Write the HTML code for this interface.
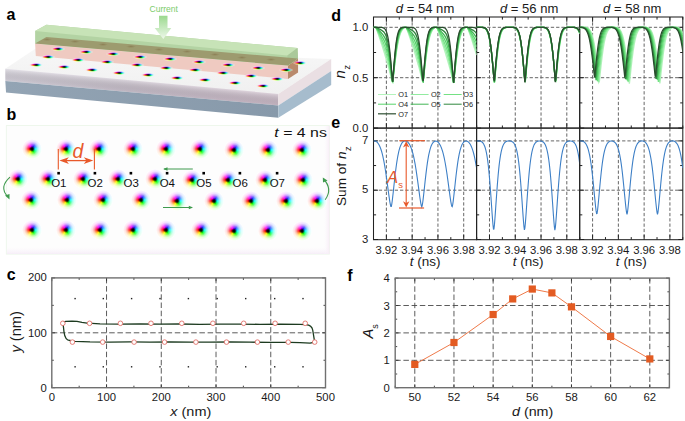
<!DOCTYPE html>
<html><head><meta charset="utf-8"><style>
*{margin:0;padding:0}
html,body{width:685px;height:421px;overflow:hidden;background:#fff}
#wrap{position:relative;width:685px;height:421px}
svg{position:absolute;left:0;top:0}
text{font-family:"Liberation Sans",sans-serif}
.skb{position:absolute;width:20px;height:20px;border-radius:50%;
 background:radial-gradient(circle,#000 0,rgba(0,0,0,.9) 1.2px,rgba(0,0,0,.35) 2.2px,rgba(0,0,0,0) 3.1px),
 radial-gradient(circle,rgba(255,255,255,0) 2.7px,rgba(255,255,255,.3) 4.3px,rgba(255,255,255,.66) 5.9px,rgba(255,255,255,.88) 7.6px,rgba(255,255,255,.96) 9.3px,#fff 10px),
 conic-gradient(from -30deg,#f0f 0deg,#22f 60deg,#0ff 120deg,#0f0 180deg,#ff0 240deg,#f00 300deg,#f0f 360deg);
 filter:blur(0.55px)}
.ska{position:absolute;width:16px;height:16px;border-radius:50%;transform:scale(0.95,0.3);
 background:radial-gradient(circle,#000 0,rgba(0,0,0,.9) 1.3px,rgba(0,0,0,.4) 2.4px,rgba(0,0,0,0) 3.4px),
 radial-gradient(circle,rgba(255,255,255,0) 2.8px,rgba(255,255,255,.3) 4.4px,rgba(255,255,255,.75) 6px,rgba(255,255,255,1) 8px),
 conic-gradient(from -30deg,#f0f 0deg,#22f 60deg,#0ff 120deg,#0f0 180deg,#ff0 240deg,#f00 300deg,#f0f 360deg);
 -webkit-mask-image:radial-gradient(circle,#000 3.5px,rgba(0,0,0,0) 8px);
 filter:blur(0.3px)}
.ska0{position:absolute;width:10px;height:3px;border-radius:50%;background:radial-gradient(ellipse,rgba(110,80,40,.35),rgba(110,80,40,0) 70%)}
</style></head>
<body><div id="wrap">
<svg width="685" height="421" viewBox="0 0 685 421">
<defs><linearGradient id="frontU" x1="0" y1="0" x2="1" y2="0"><stop offset="0" stop-color="#d6d2dc"/><stop offset="0.45" stop-color="#c9c0cc"/><stop offset="1" stop-color="#cbbac8"/></linearGradient><linearGradient id="frontUv" gradientUnits="userSpaceOnUse" x1="0" y1="68.2" x2="0" y2="80.4"><stop offset="0" stop-color="#fff" stop-opacity="0.35"/><stop offset="1" stop-color="#000" stop-opacity="0.03"/></linearGradient><linearGradient id="frontL" x1="0" y1="0" x2="1" y2="0"><stop offset="0" stop-color="#93a4b4"/><stop offset="1" stop-color="#8799aa"/></linearGradient><linearGradient id="topF" x1="0" y1="0" x2="0" y2="1"><stop offset="0" stop-color="#f7f7f7"/><stop offset="1" stop-color="#f0f0f0"/></linearGradient><linearGradient id="arrowG" x1="0" y1="0" x2="0" y2="1"><stop offset="0" stop-color="#9bd98e"/><stop offset="1" stop-color="#eef8ea"/></linearGradient></defs>
<polygon points="5.30,68.70 278.30,93.90 331.20,58.90 35.30,48.80" fill="url(#topF)" />
<polygon points="5.30,68.70 278.30,93.90 278.30,105.50 5.30,80.90" fill="url(#frontU)" />
<g transform="matrix(1,0.0923,0,1,0,0)"><rect x="5.3" y="68.2" width="273" height="12.2" fill="url(#frontUv)" transform="translate(0,0)"/></g>
<polygon points="5.30,80.90 278.30,105.50 278.30,117.80 6.00,92.60" fill="url(#frontL)" />
<polygon points="278.30,93.90 331.20,58.90 331.20,70.90 278.30,105.50" fill="#eadfe3" />
<polygon points="278.30,105.50 331.20,70.90 331.20,85.10 278.30,117.80" fill="#a6bccd" />
<polygon points="35.10,43.60 288.00,65.60 288.00,78.90 35.80,56.00" fill="#efcac1" />
<polygon points="288.00,65.60 298.00,58.60 298.10,72.40 288.00,78.90" fill="#b98a6c" />
<polygon points="35.10,31.00 46.40,24.70 297.50,48.10 298.00,58.60 288.00,65.60 35.10,43.60" fill="#b3d3a3" />
<polygon points="35.10,31.00 46.40,24.70 297.50,48.10 287.40,55.50" fill="#c7e3b7" />
<polygon points="287.40,55.50 297.50,48.10 298.00,58.60 288.00,65.60" fill="#aac99a" />
<polygon points="35.10,43.60 46.40,37.00 298.00,58.60 288.00,65.60" fill="#9d9b6f" />
<polygon points="159,15.7 167.5,15.7 167.5,28 171.3,28 163.3,39 154.7,28 159,28" fill="url(#arrowG)"/>
<text x="149.50" y="11.90" font-size="8.4" text-anchor="start" fill="#7ccc6c" font-weight="normal" font-style="normal" textLength="28.5" lengthAdjust="spacingAndGlyphs">Current</text>
<rect x="6.3" y="125.6" width="323.3" height="128.5" fill="#fdfdfd" stroke="#eaf6e8" stroke-width="0.8"/>
<defs><linearGradient id="bb" x1="0" y1="0" x2="0" y2="1"><stop offset="0" stop-color="#fbf6fc" stop-opacity="0"/><stop offset="1" stop-color="#f6eef8"/></linearGradient></defs><rect x="6.8" y="247" width="322.5" height="7" fill="url(#bb)"/><linearGradient id="br" x1="0" y1="0" x2="1" y2="0"><stop offset="0" stop-color="#fbf6fc" stop-opacity="0"/><stop offset="1" stop-color="#f7edf6"/></linearGradient><rect x="324" y="126" width="5.5" height="128" fill="url(#br)"/>
</svg>
<div class="ska0" style="left:42.0px;top:37.5px"></div>
<div class="ska0" style="left:70.0px;top:40.0px"></div>
<div class="ska0" style="left:98.0px;top:42.5px"></div>
<div class="ska0" style="left:126.0px;top:45.0px"></div>
<div class="ska0" style="left:154.0px;top:47.5px"></div>
<div class="ska0" style="left:182.0px;top:50.1px"></div>
<div class="ska0" style="left:210.2px;top:53.1px"></div>
<div class="ska0" style="left:237.2px;top:55.7px"></div>
<div class="ska0" style="left:265.5px;top:58.3px"></div>
<div class="ska" style="left:292.0px;top:54.6px;opacity:1.0"></div>
<div class="ska" style="left:50.3px;top:41.1px;opacity:1.0"></div>
<div class="ska" style="left:77.6px;top:43.9px;opacity:1.0"></div>
<div class="ska" style="left:104.9px;top:46.4px;opacity:1.0"></div>
<div class="ska" style="left:132.2px;top:48.8px;opacity:1.0"></div>
<div class="ska" style="left:162.3px;top:51.3px;opacity:1.0"></div>
<div class="ska" style="left:190.5px;top:54.4px;opacity:1.0"></div>
<div class="ska" style="left:220.1px;top:56.9px;opacity:1.0"></div>
<div class="ska" style="left:249.6px;top:59.5px;opacity:1.0"></div>
<div class="ska" style="left:277.9px;top:62.3px;opacity:1.0"></div>
<div class="ska" style="left:40.4px;top:49.3px;opacity:1.0"></div>
<div class="ska" style="left:70.2px;top:51.8px;opacity:1.0"></div>
<div class="ska" style="left:98.7px;top:54.3px;opacity:1.0"></div>
<div class="ska" style="left:128.5px;top:57.3px;opacity:1.0"></div>
<div class="ska" style="left:157.5px;top:59.8px;opacity:1.0"></div>
<div class="ska" style="left:186.7px;top:62.3px;opacity:1.0"></div>
<div class="ska" style="left:215.0px;top:64.9px;opacity:1.0"></div>
<div class="ska" style="left:243.2px;top:68.0px;opacity:1.0"></div>
<div class="ska" style="left:268.9px;top:70.5px;opacity:1.0"></div>
<div class="ska" style="left:28.0px;top:57.3px;opacity:1.0"></div>
<div class="ska" style="left:56.0px;top:59.3px;opacity:1.0"></div>
<div class="ska" style="left:83.8px;top:61.7px;opacity:1.0"></div>
<div class="ska" style="left:111.1px;top:64.7px;opacity:1.0"></div>
<div class="ska" style="left:139.6px;top:66.7px;opacity:1.0"></div>
<div class="ska" style="left:168.7px;top:69.8px;opacity:1.0"></div>
<div class="ska" style="left:197.0px;top:72.3px;opacity:1.0"></div>
<div class="ska" style="left:226.5px;top:74.9px;opacity:1.0"></div>
<div class="ska" style="left:254.8px;top:77.7px;opacity:1.0"></div>
<div class="skb" style="left:22.1px;top:138.6px"></div>
<div class="skb" style="left:55.8px;top:138.8px"></div>
<div class="skb" style="left:88.8px;top:138.9px"></div>
<div class="skb" style="left:122.5px;top:139.1px"></div>
<div class="skb" style="left:156.1px;top:139.3px"></div>
<div class="skb" style="left:189.8px;top:139.4px"></div>
<div class="skb" style="left:224.4px;top:139.6px"></div>
<div class="skb" style="left:257.5px;top:139.8px"></div>
<div class="skb" style="left:291.8px;top:139.9px"></div>
<div class="skb" style="left:7.6px;top:168.7px"></div>
<div class="skb" style="left:37.5px;top:168.9px"></div>
<div class="skb" style="left:72.8px;top:169.1px"></div>
<div class="skb" style="left:107.5px;top:169.2px"></div>
<div class="skb" style="left:144.9px;top:169.4px"></div>
<div class="skb" style="left:181.8px;top:169.6px"></div>
<div class="skb" style="left:218.0px;top:169.8px"></div>
<div class="skb" style="left:254.9px;top:170.0px"></div>
<div class="skb" style="left:292.8px;top:170.2px"></div>
<div class="skb" style="left:20.5px;top:189.9px"></div>
<div class="skb" style="left:56.7px;top:190.1px"></div>
<div class="skb" style="left:93.3px;top:190.3px"></div>
<div class="skb" style="left:130.5px;top:190.4px"></div>
<div class="skb" style="left:167.4px;top:190.6px"></div>
<div class="skb" style="left:204.3px;top:190.8px"></div>
<div class="skb" style="left:240.5px;top:191.0px"></div>
<div class="skb" style="left:276.4px;top:191.2px"></div>
<div class="skb" style="left:306.6px;top:191.3px"></div>
<div class="skb" style="left:22.1px;top:219.6px"></div>
<div class="skb" style="left:55.8px;top:219.8px"></div>
<div class="skb" style="left:90.1px;top:219.9px"></div>
<div class="skb" style="left:122.5px;top:220.1px"></div>
<div class="skb" style="left:156.1px;top:220.3px"></div>
<div class="skb" style="left:191.4px;top:220.4px"></div>
<div class="skb" style="left:224.4px;top:220.6px"></div>
<div class="skb" style="left:257.5px;top:220.8px"></div>
<div class="skb" style="left:291.8px;top:220.9px"></div>
<svg width="685" height="421" viewBox="0 0 685 421">
<text x="6.50" y="20.30" font-size="16" text-anchor="start" fill="#000" font-weight="bold" font-style="normal" >a</text>
<text x="6.50" y="120.00" font-size="16" text-anchor="start" fill="#000" font-weight="bold" font-style="normal" >b</text>
<text x="6.80" y="279.60" font-size="16" text-anchor="start" fill="#000" font-weight="bold" font-style="normal" >c</text>
<text x="331.30" y="20.50" font-size="16" text-anchor="start" fill="#000" font-weight="bold" font-style="normal" >d</text>
<text x="331.30" y="127.80" font-size="16" text-anchor="start" fill="#000" font-weight="bold" font-style="normal" >e</text>
<text x="347.30" y="281.00" font-size="16" text-anchor="start" fill="#000" font-weight="bold" font-style="normal" >f</text>
<text x="274.30" y="137.10" font-size="13.7" text-anchor="start" fill="#111" font-weight="normal" font-style="normal" textLength="52.6" lengthAdjust="spacingAndGlyphs"><tspan font-style="italic">t</tspan> = 4 ns</text>
<line x1="58.30" y1="149.00" x2="58.30" y2="169.50" stroke="#e8592a" stroke-width="1.1" />
<line x1="94.40" y1="149.00" x2="94.40" y2="169.50" stroke="#e8592a" stroke-width="1.1" />
<line x1="63.00" y1="160.60" x2="90.00" y2="160.60" stroke="#e8592a" stroke-width="1.3" />
<polygon points="59.4,160.6 68.9,157.2 66.3,160.6 68.9,164.0" fill="#e8592a"/>
<polygon points="93.3,160.6 83.8,157.2 86.4,160.6 83.8,164.0" fill="#e8592a"/>
<text x="72.40" y="157.60" font-size="19.5" text-anchor="start" fill="#e8592a" font-weight="normal" font-style="italic" >d</text>
<rect x="57.30" y="171.9" width="2.6" height="2.6" fill="#000"/>
<text x="51.20" y="187.40" font-size="11.2" text-anchor="start" fill="#111" font-weight="normal" font-style="normal" textLength="15.3" lengthAdjust="spacingAndGlyphs">O1</text>
<rect x="93.60" y="171.9" width="2.6" height="2.6" fill="#000"/>
<text x="87.50" y="187.40" font-size="11.2" text-anchor="start" fill="#111" font-weight="normal" font-style="normal" textLength="15.3" lengthAdjust="spacingAndGlyphs">O2</text>
<rect x="129.60" y="171.9" width="2.6" height="2.6" fill="#000"/>
<text x="123.50" y="187.40" font-size="11.2" text-anchor="start" fill="#111" font-weight="normal" font-style="normal" textLength="15.3" lengthAdjust="spacingAndGlyphs">O3</text>
<rect x="165.80" y="171.9" width="2.6" height="2.6" fill="#000"/>
<text x="159.70" y="187.40" font-size="11.2" text-anchor="start" fill="#111" font-weight="normal" font-style="normal" textLength="15.3" lengthAdjust="spacingAndGlyphs">O4</text>
<rect x="202.40" y="171.9" width="2.6" height="2.6" fill="#000"/>
<text x="196.30" y="187.40" font-size="11.2" text-anchor="start" fill="#111" font-weight="normal" font-style="normal" textLength="15.3" lengthAdjust="spacingAndGlyphs">O5</text>
<rect x="238.60" y="171.9" width="2.6" height="2.6" fill="#000"/>
<text x="232.50" y="187.40" font-size="11.2" text-anchor="start" fill="#111" font-weight="normal" font-style="normal" textLength="15.3" lengthAdjust="spacingAndGlyphs">O6</text>
<rect x="275.80" y="171.9" width="2.6" height="2.6" fill="#000"/>
<text x="269.70" y="187.40" font-size="11.2" text-anchor="start" fill="#111" font-weight="normal" font-style="normal" textLength="15.3" lengthAdjust="spacingAndGlyphs">O7</text>
<path d="M163.9,169 L192.8,169" stroke="#3f9a4e" stroke-width="1"/>
<polygon points="163.3,169 167.5,167.2 167.5,170.8" fill="#3f9a4e"/>
<path d="M163,207.5 L192,207.5" stroke="#3f9a4e" stroke-width="1"/>
<polygon points="193,207.5 188.8,205.7 188.8,209.3" fill="#3f9a4e"/>
<path d="M10,177.1 Q-1.2,187 7.6,196.5" stroke="#3f9a4e" stroke-width="1.1" fill="none"/>
<polygon points="9.5,199.5 5,195.5 9.5,194" fill="#3f9a4e"/>
<path d="M325.2,199.7 Q333,189 323.5,179" stroke="#3f9a4e" stroke-width="1.1" fill="none"/>
<polygon points="322.8,177.4 327.5,180.5 323,182.5" fill="#3f9a4e"/>
<line x1="106.54" y1="277.90" x2="106.54" y2="387.70" stroke="#4a4a4a" stroke-width="0.9" stroke-dasharray="5.5,2.7" />
<line x1="161.28" y1="277.90" x2="161.28" y2="387.70" stroke="#4a4a4a" stroke-width="0.9" stroke-dasharray="5.5,2.7" />
<line x1="216.02" y1="277.90" x2="216.02" y2="387.70" stroke="#4a4a4a" stroke-width="0.9" stroke-dasharray="5.5,2.7" />
<line x1="270.76" y1="277.90" x2="270.76" y2="387.70" stroke="#4a4a4a" stroke-width="0.9" stroke-dasharray="5.5,2.7" />
<line x1="51.80" y1="332.80" x2="325.50" y2="332.80" stroke="#4a4a4a" stroke-width="0.9" stroke-dasharray="5.5,2.7" />
<line x1="51.80" y1="387.70" x2="51.80" y2="384.40" stroke="#333" stroke-width="0.9" />
<line x1="51.80" y1="277.90" x2="51.80" y2="281.20" stroke="#333" stroke-width="0.9" />
<line x1="79.17" y1="387.70" x2="79.17" y2="385.70" stroke="#333" stroke-width="0.9" />
<line x1="79.17" y1="277.90" x2="79.17" y2="279.90" stroke="#333" stroke-width="0.9" />
<line x1="106.54" y1="387.70" x2="106.54" y2="384.40" stroke="#333" stroke-width="0.9" />
<line x1="106.54" y1="277.90" x2="106.54" y2="281.20" stroke="#333" stroke-width="0.9" />
<line x1="133.91" y1="387.70" x2="133.91" y2="385.70" stroke="#333" stroke-width="0.9" />
<line x1="133.91" y1="277.90" x2="133.91" y2="279.90" stroke="#333" stroke-width="0.9" />
<line x1="161.28" y1="387.70" x2="161.28" y2="384.40" stroke="#333" stroke-width="0.9" />
<line x1="161.28" y1="277.90" x2="161.28" y2="281.20" stroke="#333" stroke-width="0.9" />
<line x1="188.65" y1="387.70" x2="188.65" y2="385.70" stroke="#333" stroke-width="0.9" />
<line x1="188.65" y1="277.90" x2="188.65" y2="279.90" stroke="#333" stroke-width="0.9" />
<line x1="216.02" y1="387.70" x2="216.02" y2="384.40" stroke="#333" stroke-width="0.9" />
<line x1="216.02" y1="277.90" x2="216.02" y2="281.20" stroke="#333" stroke-width="0.9" />
<line x1="243.39" y1="387.70" x2="243.39" y2="385.70" stroke="#333" stroke-width="0.9" />
<line x1="243.39" y1="277.90" x2="243.39" y2="279.90" stroke="#333" stroke-width="0.9" />
<line x1="270.76" y1="387.70" x2="270.76" y2="384.40" stroke="#333" stroke-width="0.9" />
<line x1="270.76" y1="277.90" x2="270.76" y2="281.20" stroke="#333" stroke-width="0.9" />
<line x1="298.13" y1="387.70" x2="298.13" y2="385.70" stroke="#333" stroke-width="0.9" />
<line x1="298.13" y1="277.90" x2="298.13" y2="279.90" stroke="#333" stroke-width="0.9" />
<line x1="325.50" y1="387.70" x2="325.50" y2="384.40" stroke="#333" stroke-width="0.9" />
<line x1="325.50" y1="277.90" x2="325.50" y2="281.20" stroke="#333" stroke-width="0.9" />
<line x1="51.80" y1="387.70" x2="55.10" y2="387.70" stroke="#333" stroke-width="0.9" />
<line x1="325.50" y1="387.70" x2="322.20" y2="387.70" stroke="#333" stroke-width="0.9" />
<line x1="51.80" y1="360.25" x2="53.80" y2="360.25" stroke="#333" stroke-width="0.9" />
<line x1="325.50" y1="360.25" x2="323.50" y2="360.25" stroke="#333" stroke-width="0.9" />
<line x1="51.80" y1="332.80" x2="55.10" y2="332.80" stroke="#333" stroke-width="0.9" />
<line x1="325.50" y1="332.80" x2="322.20" y2="332.80" stroke="#333" stroke-width="0.9" />
<line x1="51.80" y1="305.35" x2="53.80" y2="305.35" stroke="#333" stroke-width="0.9" />
<line x1="325.50" y1="305.35" x2="323.50" y2="305.35" stroke="#333" stroke-width="0.9" />
<line x1="51.80" y1="277.90" x2="55.10" y2="277.90" stroke="#333" stroke-width="0.9" />
<line x1="325.50" y1="277.90" x2="322.20" y2="277.90" stroke="#333" stroke-width="0.9" />
<rect x="51.80" y="277.90" width="273.70" height="109.80" fill="none" stroke="#707070" stroke-width="1.4"/>
<rect x="74.40" y="297.90" width="1.4" height="1.4" fill="#222"/>
<rect x="102.60" y="297.90" width="1.4" height="1.4" fill="#222"/>
<rect x="130.90" y="297.90" width="1.4" height="1.4" fill="#222"/>
<rect x="159.30" y="297.90" width="1.4" height="1.4" fill="#222"/>
<rect x="187.70" y="297.90" width="1.4" height="1.4" fill="#222"/>
<rect x="216.50" y="297.90" width="1.4" height="1.4" fill="#222"/>
<rect x="245.00" y="297.90" width="1.4" height="1.4" fill="#222"/>
<rect x="274.00" y="297.90" width="1.4" height="1.4" fill="#222"/>
<rect x="302.30" y="297.90" width="1.4" height="1.4" fill="#222"/>
<rect x="74.40" y="366.10" width="1.4" height="1.4" fill="#222"/>
<rect x="102.60" y="366.10" width="1.4" height="1.4" fill="#222"/>
<rect x="130.90" y="366.10" width="1.4" height="1.4" fill="#222"/>
<rect x="159.30" y="366.10" width="1.4" height="1.4" fill="#222"/>
<rect x="187.70" y="366.10" width="1.4" height="1.4" fill="#222"/>
<rect x="216.50" y="366.10" width="1.4" height="1.4" fill="#222"/>
<rect x="245.00" y="366.10" width="1.4" height="1.4" fill="#222"/>
<rect x="274.00" y="366.10" width="1.4" height="1.4" fill="#222"/>
<rect x="302.30" y="366.10" width="1.4" height="1.4" fill="#222"/>
<path d="M63.0,322.0 L66.0,321.3 L72.0,321.2 L77.0,321.4 L82.0,322.4 L87.0,323.2 L92.0,323.4 L100.0,323.9 L120.0,324.1 L140.0,323.9 L160.0,324.2 L180.0,324.0 L200.0,324.3 L220.0,324.1 L240.0,324.2 L260.0,324.3 L280.0,324.1 L300.0,324.4 L306.0,324.6 C310,325 312,326 312.7,330 L314.7,342.2 L310.0,343.2 L300.0,342.6 L290.0,342.3 L270.0,342.4 L250.0,342.2 L230.0,342.0 L210.0,342.2 L190.0,342.1 L170.0,342.0 L150.0,342.1 L130.0,341.9 L110.0,342.1 L90.0,341.9 L75.0,341.4 L70.0,340.5 C66.5,340.5 64.5,336 64,332 L63,323" stroke="#1d3b20" stroke-width="1.3" fill="none"/>
<circle cx="62.8" cy="323.3" r="2.3" fill="#fff" stroke="#e2706a" stroke-width="0.9"/>
<circle cx="89.6" cy="323.3" r="2.3" fill="#fff" stroke="#e2706a" stroke-width="0.9"/>
<circle cx="120.4" cy="323.3" r="2.3" fill="#fff" stroke="#e2706a" stroke-width="0.9"/>
<circle cx="151" cy="323.3" r="2.3" fill="#fff" stroke="#e2706a" stroke-width="0.9"/>
<circle cx="181.8" cy="323.3" r="2.3" fill="#fff" stroke="#e2706a" stroke-width="0.9"/>
<circle cx="212.9" cy="323.3" r="2.3" fill="#fff" stroke="#e2706a" stroke-width="0.9"/>
<circle cx="243.7" cy="323.3" r="2.3" fill="#fff" stroke="#e2706a" stroke-width="0.9"/>
<circle cx="275.1" cy="323.3" r="2.3" fill="#fff" stroke="#e2706a" stroke-width="0.9"/>
<circle cx="305.2" cy="323.3" r="2.3" fill="#fff" stroke="#e2706a" stroke-width="0.9"/>
<circle cx="72.4" cy="342.1" r="2.3" fill="#fff" stroke="#e2706a" stroke-width="0.9"/>
<circle cx="102.7" cy="342.1" r="2.3" fill="#fff" stroke="#e2706a" stroke-width="0.9"/>
<circle cx="134.1" cy="342.1" r="2.3" fill="#fff" stroke="#e2706a" stroke-width="0.9"/>
<circle cx="164.6" cy="342.1" r="2.3" fill="#fff" stroke="#e2706a" stroke-width="0.9"/>
<circle cx="195.9" cy="342.1" r="2.3" fill="#fff" stroke="#e2706a" stroke-width="0.9"/>
<circle cx="226.5" cy="342.1" r="2.3" fill="#fff" stroke="#e2706a" stroke-width="0.9"/>
<circle cx="257.4" cy="342.1" r="2.3" fill="#fff" stroke="#e2706a" stroke-width="0.9"/>
<circle cx="288.2" cy="342.1" r="2.3" fill="#fff" stroke="#e2706a" stroke-width="0.9"/>
<circle cx="314.7" cy="342.1" r="2.3" fill="#fff" stroke="#e2706a" stroke-width="0.9"/>
<text x="46.80" y="391.70" font-size="11.3" text-anchor="end" fill="#1a1a1a" font-weight="normal" font-style="normal" >0</text>
<text x="46.80" y="336.80" font-size="11.3" text-anchor="end" fill="#1a1a1a" font-weight="normal" font-style="normal" >100</text>
<text x="46.80" y="280.90" font-size="11.3" text-anchor="end" fill="#1a1a1a" font-weight="normal" font-style="normal" >200</text>
<text x="51.80" y="401.00" font-size="11.3" text-anchor="middle" fill="#1a1a1a" font-weight="normal" font-style="normal" >0</text>
<text x="106.54" y="401.00" font-size="11.3" text-anchor="middle" fill="#1a1a1a" font-weight="normal" font-style="normal" >100</text>
<text x="161.28" y="401.00" font-size="11.3" text-anchor="middle" fill="#1a1a1a" font-weight="normal" font-style="normal" >200</text>
<text x="216.02" y="401.00" font-size="11.3" text-anchor="middle" fill="#1a1a1a" font-weight="normal" font-style="normal" >300</text>
<text x="270.76" y="401.00" font-size="11.3" text-anchor="middle" fill="#1a1a1a" font-weight="normal" font-style="normal" >400</text>
<text x="325.50" y="401.00" font-size="11.3" text-anchor="middle" fill="#1a1a1a" font-weight="normal" font-style="normal" >500</text>
<text x="170.30" y="416.20" font-size="13.6" text-anchor="start" fill="#1a1a1a" font-weight="normal" font-style="normal" textLength="41" lengthAdjust="spacingAndGlyphs"><tspan font-style="italic">x</tspan> (nm)</text>
<text transform="translate(20.8,352.6) rotate(-90)" font-size="13.9" fill="#1a1a1a" textLength="41.6" lengthAdjust="spacingAndGlyphs"><tspan font-style="italic">y</tspan> (nm)</text>
<defs><clipPath id="cd0"><rect x="373.5" y="17" width="103.1" height="111.1"/></clipPath><clipPath id="cd1"><rect x="476.6" y="17" width="103.1" height="111.1"/></clipPath><clipPath id="cd2"><rect x="579.7" y="17" width="103.1" height="111.1"/></clipPath></defs>
<line x1="386.39" y1="17.00" x2="386.39" y2="128.10" stroke="#666" stroke-width="1.0" stroke-dasharray="3.3,2" />
<line x1="412.16" y1="17.00" x2="412.16" y2="128.10" stroke="#666" stroke-width="1.0" stroke-dasharray="3.3,2" />
<line x1="437.94" y1="17.00" x2="437.94" y2="128.10" stroke="#666" stroke-width="1.0" stroke-dasharray="3.3,2" />
<line x1="463.71" y1="17.00" x2="463.71" y2="128.10" stroke="#666" stroke-width="1.0" stroke-dasharray="3.3,2" />
<line x1="373.50" y1="77.70" x2="476.60" y2="77.70" stroke="#666" stroke-width="1.0" stroke-dasharray="3.3,2" />
<line x1="373.50" y1="27.30" x2="476.60" y2="27.30" stroke="#666" stroke-width="1.0" stroke-dasharray="3.3,2" />
<line x1="373.50" y1="128.10" x2="373.50" y2="125.50" stroke="#222" stroke-width="1.0" />
<line x1="373.50" y1="17.00" x2="373.50" y2="19.60" stroke="#222" stroke-width="1.0" />
<line x1="386.39" y1="128.10" x2="386.39" y2="123.30" stroke="#222" stroke-width="1.0" />
<line x1="386.39" y1="17.00" x2="386.39" y2="21.80" stroke="#222" stroke-width="1.0" />
<line x1="399.27" y1="128.10" x2="399.27" y2="125.50" stroke="#222" stroke-width="1.0" />
<line x1="399.27" y1="17.00" x2="399.27" y2="19.60" stroke="#222" stroke-width="1.0" />
<line x1="412.16" y1="128.10" x2="412.16" y2="123.30" stroke="#222" stroke-width="1.0" />
<line x1="412.16" y1="17.00" x2="412.16" y2="21.80" stroke="#222" stroke-width="1.0" />
<line x1="425.05" y1="128.10" x2="425.05" y2="125.50" stroke="#222" stroke-width="1.0" />
<line x1="425.05" y1="17.00" x2="425.05" y2="19.60" stroke="#222" stroke-width="1.0" />
<line x1="437.94" y1="128.10" x2="437.94" y2="123.30" stroke="#222" stroke-width="1.0" />
<line x1="437.94" y1="17.00" x2="437.94" y2="21.80" stroke="#222" stroke-width="1.0" />
<line x1="450.82" y1="128.10" x2="450.82" y2="125.50" stroke="#222" stroke-width="1.0" />
<line x1="450.82" y1="17.00" x2="450.82" y2="19.60" stroke="#222" stroke-width="1.0" />
<line x1="463.71" y1="128.10" x2="463.71" y2="123.30" stroke="#222" stroke-width="1.0" />
<line x1="463.71" y1="17.00" x2="463.71" y2="21.80" stroke="#222" stroke-width="1.0" />
<line x1="476.60" y1="128.10" x2="476.60" y2="125.50" stroke="#222" stroke-width="1.0" />
<line x1="476.60" y1="17.00" x2="476.60" y2="19.60" stroke="#222" stroke-width="1.0" />
<line x1="373.50" y1="128.10" x2="378.00" y2="128.10" stroke="#222" stroke-width="1.0" />
<line x1="373.50" y1="77.70" x2="378.00" y2="77.70" stroke="#222" stroke-width="1.0" />
<line x1="373.50" y1="27.30" x2="378.00" y2="27.30" stroke="#222" stroke-width="1.0" />
<line x1="373.50" y1="102.90" x2="376.10" y2="102.90" stroke="#222" stroke-width="1.0" />
<line x1="373.50" y1="52.50" x2="376.10" y2="52.50" stroke="#222" stroke-width="1.0" />
<rect x="373.50" y="17.00" width="103.10" height="111.10" fill="none" stroke="#222" stroke-width="1.05"/>
<text x="425.05" y="12.70" font-size="13.5" text-anchor="middle" fill="#1a1a1a" font-weight="normal" font-style="normal" textLength="58.4" lengthAdjust="spacingAndGlyphs"><tspan font-style="italic">d</tspan> = 54 nm</text>
<line x1="489.49" y1="17.00" x2="489.49" y2="128.10" stroke="#666" stroke-width="1.0" stroke-dasharray="3.3,2" />
<line x1="515.26" y1="17.00" x2="515.26" y2="128.10" stroke="#666" stroke-width="1.0" stroke-dasharray="3.3,2" />
<line x1="541.04" y1="17.00" x2="541.04" y2="128.10" stroke="#666" stroke-width="1.0" stroke-dasharray="3.3,2" />
<line x1="566.81" y1="17.00" x2="566.81" y2="128.10" stroke="#666" stroke-width="1.0" stroke-dasharray="3.3,2" />
<line x1="476.60" y1="77.70" x2="579.70" y2="77.70" stroke="#666" stroke-width="1.0" stroke-dasharray="3.3,2" />
<line x1="476.60" y1="27.30" x2="579.70" y2="27.30" stroke="#666" stroke-width="1.0" stroke-dasharray="3.3,2" />
<line x1="476.60" y1="128.10" x2="476.60" y2="125.50" stroke="#222" stroke-width="1.0" />
<line x1="476.60" y1="17.00" x2="476.60" y2="19.60" stroke="#222" stroke-width="1.0" />
<line x1="489.49" y1="128.10" x2="489.49" y2="123.30" stroke="#222" stroke-width="1.0" />
<line x1="489.49" y1="17.00" x2="489.49" y2="21.80" stroke="#222" stroke-width="1.0" />
<line x1="502.38" y1="128.10" x2="502.38" y2="125.50" stroke="#222" stroke-width="1.0" />
<line x1="502.38" y1="17.00" x2="502.38" y2="19.60" stroke="#222" stroke-width="1.0" />
<line x1="515.26" y1="128.10" x2="515.26" y2="123.30" stroke="#222" stroke-width="1.0" />
<line x1="515.26" y1="17.00" x2="515.26" y2="21.80" stroke="#222" stroke-width="1.0" />
<line x1="528.15" y1="128.10" x2="528.15" y2="125.50" stroke="#222" stroke-width="1.0" />
<line x1="528.15" y1="17.00" x2="528.15" y2="19.60" stroke="#222" stroke-width="1.0" />
<line x1="541.04" y1="128.10" x2="541.04" y2="123.30" stroke="#222" stroke-width="1.0" />
<line x1="541.04" y1="17.00" x2="541.04" y2="21.80" stroke="#222" stroke-width="1.0" />
<line x1="553.92" y1="128.10" x2="553.92" y2="125.50" stroke="#222" stroke-width="1.0" />
<line x1="553.92" y1="17.00" x2="553.92" y2="19.60" stroke="#222" stroke-width="1.0" />
<line x1="566.81" y1="128.10" x2="566.81" y2="123.30" stroke="#222" stroke-width="1.0" />
<line x1="566.81" y1="17.00" x2="566.81" y2="21.80" stroke="#222" stroke-width="1.0" />
<line x1="579.70" y1="128.10" x2="579.70" y2="125.50" stroke="#222" stroke-width="1.0" />
<line x1="579.70" y1="17.00" x2="579.70" y2="19.60" stroke="#222" stroke-width="1.0" />
<line x1="476.60" y1="128.10" x2="481.10" y2="128.10" stroke="#222" stroke-width="1.0" />
<line x1="476.60" y1="77.70" x2="481.10" y2="77.70" stroke="#222" stroke-width="1.0" />
<line x1="476.60" y1="27.30" x2="481.10" y2="27.30" stroke="#222" stroke-width="1.0" />
<line x1="476.60" y1="102.90" x2="479.20" y2="102.90" stroke="#222" stroke-width="1.0" />
<line x1="476.60" y1="52.50" x2="479.20" y2="52.50" stroke="#222" stroke-width="1.0" />
<rect x="476.60" y="17.00" width="103.10" height="111.10" fill="none" stroke="#222" stroke-width="1.05"/>
<text x="529.15" y="12.70" font-size="13.5" text-anchor="middle" fill="#1a1a1a" font-weight="normal" font-style="normal" textLength="58.4" lengthAdjust="spacingAndGlyphs"><tspan font-style="italic">d</tspan> = 56 nm</text>
<line x1="592.59" y1="17.00" x2="592.59" y2="128.10" stroke="#666" stroke-width="1.0" stroke-dasharray="3.3,2" />
<line x1="618.36" y1="17.00" x2="618.36" y2="128.10" stroke="#666" stroke-width="1.0" stroke-dasharray="3.3,2" />
<line x1="644.14" y1="17.00" x2="644.14" y2="128.10" stroke="#666" stroke-width="1.0" stroke-dasharray="3.3,2" />
<line x1="669.91" y1="17.00" x2="669.91" y2="128.10" stroke="#666" stroke-width="1.0" stroke-dasharray="3.3,2" />
<line x1="579.70" y1="77.70" x2="682.80" y2="77.70" stroke="#666" stroke-width="1.0" stroke-dasharray="3.3,2" />
<line x1="579.70" y1="27.30" x2="682.80" y2="27.30" stroke="#666" stroke-width="1.0" stroke-dasharray="3.3,2" />
<line x1="579.70" y1="128.10" x2="579.70" y2="125.50" stroke="#222" stroke-width="1.0" />
<line x1="579.70" y1="17.00" x2="579.70" y2="19.60" stroke="#222" stroke-width="1.0" />
<line x1="592.59" y1="128.10" x2="592.59" y2="123.30" stroke="#222" stroke-width="1.0" />
<line x1="592.59" y1="17.00" x2="592.59" y2="21.80" stroke="#222" stroke-width="1.0" />
<line x1="605.48" y1="128.10" x2="605.48" y2="125.50" stroke="#222" stroke-width="1.0" />
<line x1="605.48" y1="17.00" x2="605.48" y2="19.60" stroke="#222" stroke-width="1.0" />
<line x1="618.36" y1="128.10" x2="618.36" y2="123.30" stroke="#222" stroke-width="1.0" />
<line x1="618.36" y1="17.00" x2="618.36" y2="21.80" stroke="#222" stroke-width="1.0" />
<line x1="631.25" y1="128.10" x2="631.25" y2="125.50" stroke="#222" stroke-width="1.0" />
<line x1="631.25" y1="17.00" x2="631.25" y2="19.60" stroke="#222" stroke-width="1.0" />
<line x1="644.14" y1="128.10" x2="644.14" y2="123.30" stroke="#222" stroke-width="1.0" />
<line x1="644.14" y1="17.00" x2="644.14" y2="21.80" stroke="#222" stroke-width="1.0" />
<line x1="657.03" y1="128.10" x2="657.03" y2="125.50" stroke="#222" stroke-width="1.0" />
<line x1="657.03" y1="17.00" x2="657.03" y2="19.60" stroke="#222" stroke-width="1.0" />
<line x1="669.91" y1="128.10" x2="669.91" y2="123.30" stroke="#222" stroke-width="1.0" />
<line x1="669.91" y1="17.00" x2="669.91" y2="21.80" stroke="#222" stroke-width="1.0" />
<line x1="682.80" y1="128.10" x2="682.80" y2="125.50" stroke="#222" stroke-width="1.0" />
<line x1="682.80" y1="17.00" x2="682.80" y2="19.60" stroke="#222" stroke-width="1.0" />
<line x1="579.70" y1="128.10" x2="584.20" y2="128.10" stroke="#222" stroke-width="1.0" />
<line x1="579.70" y1="77.70" x2="584.20" y2="77.70" stroke="#222" stroke-width="1.0" />
<line x1="579.70" y1="27.30" x2="584.20" y2="27.30" stroke="#222" stroke-width="1.0" />
<line x1="579.70" y1="102.90" x2="582.30" y2="102.90" stroke="#222" stroke-width="1.0" />
<line x1="579.70" y1="52.50" x2="582.30" y2="52.50" stroke="#222" stroke-width="1.0" />
<line x1="682.80" y1="128.10" x2="678.30" y2="128.10" stroke="#222" stroke-width="1.0" />
<line x1="682.80" y1="77.70" x2="678.30" y2="77.70" stroke="#222" stroke-width="1.0" />
<line x1="682.80" y1="27.30" x2="678.30" y2="27.30" stroke="#222" stroke-width="1.0" />
<line x1="682.80" y1="102.90" x2="680.20" y2="102.90" stroke="#222" stroke-width="1.0" />
<line x1="682.80" y1="52.50" x2="680.20" y2="52.50" stroke="#222" stroke-width="1.0" />
<rect x="579.70" y="17.00" width="103.10" height="111.10" fill="none" stroke="#222" stroke-width="1.05"/>
<text x="632.25" y="12.70" font-size="13.5" text-anchor="middle" fill="#1a1a1a" font-weight="normal" font-style="normal" textLength="58.4" lengthAdjust="spacingAndGlyphs"><tspan font-style="italic">d</tspan> = 58 nm</text>
<g clip-path="url(#cd0)" fill="none"><path d="M373.50,27.84 L373.97,27.54 L374.44,27.30 L374.91,27.30 L375.37,27.30 L375.84,27.40 L376.31,28.58 L376.78,29.82 L377.25,31.11 L377.72,32.43 L378.19,33.78 L378.65,35.15 L379.12,36.54 L379.59,37.95 L380.06,39.37 L380.53,40.80 L381.00,42.24 L381.47,43.70 L381.94,45.16 L382.40,46.63 L382.87,48.12 L383.34,49.61 L383.81,51.12 L384.28,52.64 L384.75,54.17 L385.22,55.72 L385.68,57.29 L386.15,58.88 L386.62,60.49 L387.09,62.12 L387.56,63.78 L388.03,65.47 L388.50,67.18 L388.96,68.92 L389.43,70.69 L389.90,72.49 L390.37,74.32 L390.84,76.16 L391.31,78.03 L391.78,79.92 L392.25,81.81 L392.71,82.22 L393.18,78.03 L393.65,73.86 L394.12,69.76 L394.59,65.78 L395.06,61.95 L395.53,58.29 L395.99,54.84 L396.46,51.60 L396.93,48.60 L397.40,45.84 L397.87,43.31 L398.34,41.03 L398.81,38.97 L399.27,37.14 L399.74,35.51 L400.21,34.09 L400.68,32.84 L401.15,31.76 L401.62,30.84 L402.09,30.04 L402.56,29.37 L403.02,28.81 L403.49,28.34 L403.96,27.94 L404.43,27.62 L404.90,27.36 L405.37,27.30 L405.84,27.30 L406.30,27.60 L406.77,28.78 L407.24,30.02 L407.71,31.31 L408.18,32.63 L408.65,33.97 L409.12,35.35 L409.58,36.74 L410.05,38.14 L410.52,39.56 L410.99,40.99 L411.46,42.43 L411.93,43.89 L412.40,45.35 L412.87,46.83 L413.33,48.31 L413.80,49.81 L414.27,51.32 L414.74,52.84 L415.21,54.37 L415.68,55.93 L416.15,57.50 L416.61,59.09 L417.08,60.70 L417.55,62.34 L418.02,64.00 L418.49,65.69 L418.96,67.41 L419.43,69.15 L419.89,70.93 L420.36,72.73 L420.83,74.56 L421.30,76.41 L421.77,78.28 L422.24,80.16 L422.71,82.06 L423.18,81.68 L423.64,77.48 L424.11,73.32 L424.58,69.24 L425.05,65.27 L425.52,61.46 L425.99,57.83 L426.46,54.40 L426.92,51.20 L427.39,48.23 L427.86,45.49 L428.33,43.00 L428.80,40.74 L429.27,38.72 L429.74,36.91 L430.20,35.31 L430.67,33.91 L431.14,32.69 L431.61,31.63 L432.08,30.72 L432.55,29.95 L433.02,29.29 L433.49,28.74 L433.95,28.28 L434.42,27.90 L434.89,27.58 L435.36,27.33 L435.83,27.30 L436.30,27.30 L436.77,27.30 L437.23,28.38 L437.70,29.61 L438.17,30.89 L438.64,32.21 L439.11,33.56 L439.58,34.93 L440.05,36.31 L440.51,37.72 L440.98,39.13 L441.45,40.56 L441.92,42.00 L442.39,43.46 L442.86,44.92 L443.33,46.39 L443.80,47.87 L444.26,49.36 L444.73,50.87 L445.20,52.39 L445.67,53.92 L446.14,55.47 L446.61,57.03 L447.08,58.62 L447.54,60.22 L448.01,61.85 L448.48,63.51 L448.95,65.19 L449.42,66.90 L449.89,68.63 L450.36,70.40 L450.82,72.19 L451.29,74.01 L451.76,75.86 L452.23,77.72 L452.70,79.60 L453.17,81.50 L453.64,82.92 L454.11,78.72 L454.57,74.54 L455.04,70.43 L455.51,66.43 L455.98,62.57 L456.45,58.88 L456.92,55.39 L457.39,52.12 L457.85,49.08 L458.32,46.28 L458.79,43.71 L459.26,41.39 L459.73,39.29 L460.20,37.42 L460.67,35.77 L461.13,34.31 L461.60,33.03 L462.07,31.93 L462.54,30.98 L463.01,30.17 L463.48,29.48 L463.95,28.89 L464.42,28.41 L464.88,28.00 L465.35,27.67 L465.82,27.40 L466.29,27.30 L466.76,27.30 L467.23,27.30 L467.70,28.03 L468.16,29.24 L468.63,30.51 L469.10,31.82 L469.57,33.16 L470.04,34.52 L470.51,35.90 L470.98,37.30 L471.44,38.71 L471.91,40.14 L472.38,41.58 L472.85,43.02 L473.32,44.48 L473.79,45.95 L474.26,47.43 L474.73,48.92 L475.19,50.42 L475.66,51.94 L476.13,53.46 L476.60,55.01" stroke="#b4f3bc" stroke-width="1.35"/><path d="M373.50,27.67 L373.97,27.44 L374.44,27.30 L374.91,27.30 L375.37,27.30 L375.84,27.40 L376.31,28.39 L376.78,29.44 L377.25,30.52 L377.72,31.63 L378.19,32.76 L378.65,33.90 L379.12,35.07 L379.59,36.24 L380.06,37.43 L380.53,38.63 L381.00,39.84 L381.47,41.06 L381.94,42.30 L382.40,43.55 L382.87,44.82 L383.34,46.12 L383.81,47.44 L384.28,48.79 L384.75,50.17 L385.22,51.60 L385.68,53.07 L386.15,54.60 L386.62,56.19 L387.09,57.84 L387.56,59.58 L388.03,61.39 L388.50,63.29 L388.96,65.28 L389.43,67.36 L389.90,69.53 L390.37,71.78 L390.84,74.10 L391.31,76.49 L391.78,78.92 L392.25,81.38 L392.71,82.17 L393.18,77.73 L393.65,73.33 L394.12,69.02 L394.59,64.84 L395.06,60.84 L395.53,57.05 L395.99,53.49 L396.46,50.19 L396.93,47.15 L397.40,44.38 L397.87,41.88 L398.34,39.65 L398.81,37.66 L399.27,35.91 L399.74,34.39 L400.21,33.07 L400.68,31.94 L401.15,30.97 L401.62,30.16 L402.09,29.48 L402.56,28.91 L403.02,28.44 L403.49,28.06 L403.96,27.75 L404.43,27.50 L404.90,27.30 L405.37,27.30 L405.84,27.30 L406.30,27.56 L406.77,28.55 L407.24,29.60 L407.71,30.68 L408.18,31.79 L408.65,32.91 L409.12,34.06 L409.58,35.22 L410.05,36.40 L410.52,37.59 L410.99,38.79 L411.46,40.00 L411.93,41.22 L412.40,42.46 L412.87,43.72 L413.33,44.99 L413.80,46.29 L414.27,47.61 L414.74,48.97 L415.21,50.35 L415.68,51.79 L416.15,53.27 L416.61,54.80 L417.08,56.40 L417.55,58.07 L418.02,59.81 L418.49,61.64 L418.96,63.55 L419.43,65.55 L419.89,67.64 L420.36,69.82 L420.83,72.08 L421.30,74.41 L421.77,76.80 L422.24,79.24 L422.71,81.70 L423.18,81.59 L423.64,77.15 L424.11,72.76 L424.58,68.46 L425.05,64.30 L425.52,60.33 L425.99,56.57 L426.46,53.05 L426.92,49.78 L427.39,46.78 L427.86,44.04 L428.33,41.58 L428.80,39.37 L429.27,37.42 L429.74,35.70 L430.20,34.21 L430.67,32.91 L431.14,31.80 L431.61,30.86 L432.08,30.06 L432.55,29.40 L433.02,28.85 L433.49,28.39 L433.95,28.02 L434.42,27.71 L434.89,27.47 L435.36,27.30 L435.83,27.30 L436.30,27.30 L436.77,27.30 L437.23,28.22 L437.70,29.26 L438.17,30.34 L438.64,31.44 L439.11,32.57 L439.58,33.71 L440.05,34.87 L440.51,36.05 L440.98,37.23 L441.45,38.43 L441.92,39.64 L442.39,40.86 L442.86,42.09 L443.33,43.35 L443.80,44.61 L444.26,45.90 L444.73,47.22 L445.20,48.56 L445.67,49.94 L446.14,51.36 L446.61,52.82 L447.08,54.34 L447.54,55.92 L448.01,57.57 L448.48,59.29 L448.95,61.09 L449.42,62.97 L449.89,64.95 L450.36,67.01 L450.82,69.17 L451.29,71.40 L451.76,73.71 L452.23,76.09 L452.70,78.51 L453.17,80.97 L453.64,82.90 L454.11,78.46 L454.57,74.05 L455.04,69.72 L455.51,65.52 L455.98,61.48 L456.45,57.66 L456.92,54.06 L457.39,50.72 L457.85,47.64 L458.32,44.82 L458.79,42.28 L459.26,40.00 L459.73,37.97 L460.20,36.19 L460.67,34.63 L461.13,33.27 L461.60,32.11 L462.07,31.12 L462.54,30.29 L463.01,29.58 L463.48,29.00 L463.95,28.52 L464.42,28.12 L464.88,27.80 L465.35,27.54 L465.82,27.33 L466.29,27.30 L466.76,27.30 L467.23,27.30 L467.70,27.93 L468.16,28.95 L468.63,30.02 L469.10,31.11 L469.57,32.23 L470.04,33.37 L470.51,34.53 L470.98,35.70 L471.44,36.88 L471.91,38.07 L472.38,39.28 L472.85,40.50 L473.32,41.73 L473.79,42.97 L474.26,44.24 L474.73,45.52 L475.19,46.83 L475.66,48.16 L476.13,49.53 L476.60,50.93" stroke="#92eba0" stroke-width="1.35"/><path d="M373.50,27.57 L373.97,27.40 L374.44,27.30 L374.91,27.30 L375.37,27.30 L375.84,27.43 L376.31,28.23 L376.78,29.08 L377.25,29.95 L377.72,30.84 L378.19,31.74 L378.65,32.66 L379.12,33.60 L379.59,34.54 L380.06,35.49 L380.53,36.46 L381.00,37.43 L381.47,38.42 L381.94,39.43 L382.40,40.46 L382.87,41.51 L383.34,42.59 L383.81,43.71 L384.28,44.88 L384.75,46.10 L385.22,47.38 L385.68,48.75 L386.15,50.20 L386.62,51.75 L387.09,53.42 L387.56,55.21 L388.03,57.14 L388.50,59.23 L388.96,61.46 L389.43,63.85 L389.90,66.40 L390.37,69.09 L390.84,71.91 L391.31,74.84 L391.78,77.85 L392.25,80.92 L392.71,82.10 L393.18,77.39 L393.65,72.73 L394.12,68.17 L394.59,63.78 L395.06,59.60 L395.53,55.66 L395.99,52.01 L396.46,48.65 L396.93,45.59 L397.40,42.83 L397.87,40.38 L398.34,38.21 L398.81,36.32 L399.27,34.68 L399.74,33.28 L400.21,32.09 L400.68,31.08 L401.15,30.25 L401.62,29.55 L402.09,28.99 L402.56,28.53 L403.02,28.16 L403.49,27.86 L403.96,27.63 L404.43,27.44 L404.90,27.30 L405.37,27.30 L405.84,27.30 L406.30,27.56 L406.77,28.36 L407.24,29.20 L407.71,30.07 L408.18,30.96 L408.65,31.87 L409.12,32.79 L409.58,33.72 L410.05,34.66 L410.52,35.62 L410.99,36.58 L411.46,37.56 L411.93,38.55 L412.40,39.56 L412.87,40.59 L413.33,41.65 L413.80,42.74 L414.27,43.86 L414.74,45.04 L415.21,46.26 L415.68,47.56 L416.15,48.93 L416.61,50.39 L417.08,51.96 L417.55,53.64 L418.02,55.46 L418.49,57.41 L418.96,59.51 L419.43,61.77 L419.89,64.18 L420.36,66.74 L420.83,69.45 L421.30,72.29 L421.77,75.23 L422.24,78.25 L422.71,81.32 L423.18,81.48 L423.64,76.78 L424.11,72.12 L424.58,67.58 L425.05,63.22 L425.52,59.07 L425.99,55.17 L426.46,51.55 L426.92,48.23 L427.39,45.21 L427.86,42.50 L428.33,40.08 L428.80,37.95 L429.27,36.09 L429.74,34.49 L430.20,33.11 L430.67,31.94 L431.14,30.96 L431.61,30.15 L432.08,29.47 L432.55,28.92 L433.02,28.47 L433.49,28.11 L433.95,27.83 L434.42,27.60 L434.89,27.42 L435.36,27.30 L435.83,27.30 L436.30,27.30 L436.77,27.31 L437.23,28.10 L437.70,28.94 L438.17,29.80 L438.64,30.69 L439.11,31.59 L439.58,32.51 L440.05,33.44 L440.51,34.38 L440.98,35.33 L441.45,36.30 L441.92,37.27 L442.39,38.26 L442.86,39.26 L443.33,40.29 L443.80,41.34 L444.26,42.41 L444.73,43.53 L445.20,44.68 L445.67,45.89 L446.14,47.17 L446.61,48.52 L447.08,49.95 L447.54,51.49 L448.01,53.13 L448.48,54.91 L448.95,56.82 L449.42,58.87 L449.89,61.08 L450.36,63.45 L450.82,65.97 L451.29,68.63 L451.76,71.43 L452.23,74.35 L452.70,77.35 L453.17,80.41 L453.64,82.87 L454.11,78.17 L454.57,73.49 L455.04,68.91 L455.51,64.49 L455.98,60.27 L456.45,56.29 L456.92,52.59 L457.39,49.18 L457.85,46.07 L458.32,43.27 L458.79,40.76 L459.26,38.55 L459.73,36.62 L460.20,34.94 L460.67,33.50 L461.13,32.27 L461.60,31.24 L462.07,30.37 L462.54,29.66 L463.01,29.07 L463.48,28.60 L463.95,28.21 L464.42,27.90 L464.88,27.66 L465.35,27.47 L465.82,27.32 L466.29,27.30 L466.76,27.30 L467.23,27.30 L467.70,27.86 L468.16,28.68 L468.63,29.54 L469.10,30.43 L469.57,31.32 L470.04,32.24 L470.51,33.16 L470.98,34.10 L471.44,35.05 L471.91,36.01 L472.38,36.98 L472.85,37.96 L473.32,38.96 L473.79,39.98 L474.26,41.02 L474.73,42.09 L475.19,43.19 L475.66,44.34 L476.13,45.53 L476.60,46.78" stroke="#74e184" stroke-width="1.35"/><path d="M373.50,27.48 L373.97,27.36 L374.44,27.30 L374.91,27.30 L375.37,27.30 L375.84,27.44 L376.31,28.04 L376.78,28.68 L377.25,29.34 L377.72,30.01 L378.19,30.69 L378.65,31.38 L379.12,32.08 L379.59,32.79 L380.06,33.51 L380.53,34.24 L381.00,34.98 L381.47,35.73 L381.94,36.51 L382.40,37.31 L382.87,38.13 L383.34,39.00 L383.81,39.91 L384.28,40.88 L384.75,41.93 L385.22,43.06 L385.68,44.29 L386.15,45.65 L386.62,47.14 L387.09,48.80 L387.56,50.65 L388.03,52.69 L388.50,54.94 L388.96,57.42 L389.43,60.13 L389.90,63.06 L390.37,66.22 L390.84,69.56 L391.31,73.07 L391.78,76.71 L392.25,80.42 L392.71,82.02 L393.18,76.99 L393.65,72.02 L394.12,67.19 L394.59,62.55 L395.06,58.18 L395.53,54.09 L395.99,50.34 L396.46,46.93 L396.93,43.87 L397.40,41.15 L397.87,38.76 L398.34,36.70 L398.81,34.93 L399.27,33.42 L399.74,32.16 L400.21,31.11 L400.68,30.25 L401.15,29.55 L401.62,28.98 L402.09,28.53 L402.56,28.18 L403.02,27.90 L403.49,27.68 L403.96,27.52 L404.43,27.39 L404.90,27.30 L405.37,27.30 L405.84,27.30 L406.30,27.52 L406.77,28.13 L407.24,28.77 L407.71,29.43 L408.18,30.10 L408.65,30.78 L409.12,31.47 L409.58,32.17 L410.05,32.88 L410.52,33.60 L410.99,34.33 L411.46,35.08 L411.93,35.83 L412.40,36.61 L412.87,37.41 L413.33,38.25 L413.80,39.12 L414.27,40.04 L414.74,41.02 L415.21,42.07 L415.68,43.21 L416.15,44.46 L416.61,45.83 L417.08,47.35 L417.55,49.04 L418.02,50.90 L418.49,52.97 L418.96,55.25 L419.43,57.76 L419.89,60.50 L420.36,63.47 L420.83,66.64 L421.30,70.01 L421.77,73.54 L422.24,77.19 L422.71,80.91 L423.18,81.36 L423.64,76.34 L424.11,71.38 L424.58,66.57 L425.05,61.96 L425.52,57.62 L425.99,53.58 L426.46,49.87 L426.92,46.51 L427.39,43.49 L427.86,40.82 L428.33,38.48 L428.80,36.45 L429.27,34.71 L429.74,33.24 L430.20,32.01 L430.67,30.99 L431.14,30.15 L431.61,29.46 L432.08,28.92 L432.55,28.48 L433.02,28.14 L433.49,27.87 L433.95,27.66 L434.42,27.50 L434.89,27.38 L435.36,27.30 L435.83,27.30 L436.30,27.30 L436.77,27.34 L437.23,27.94 L437.70,28.57 L438.17,29.23 L438.64,29.90 L439.11,30.58 L439.58,31.27 L440.05,31.97 L440.51,32.67 L440.98,33.39 L441.45,34.12 L441.92,34.86 L442.39,35.61 L442.86,36.38 L443.33,37.17 L443.80,38.00 L444.26,38.85 L444.73,39.76 L445.20,40.72 L445.67,41.75 L446.14,42.86 L446.61,44.08 L447.08,45.41 L447.54,46.89 L448.01,48.52 L448.48,50.33 L448.95,52.34 L449.42,54.56 L449.89,57.00 L450.36,59.67 L450.82,62.57 L451.29,65.68 L451.76,69.00 L452.23,72.49 L452.70,76.11 L453.17,79.81 L453.64,82.85 L454.11,77.82 L454.57,72.84 L455.04,67.97 L455.51,63.30 L455.98,58.88 L456.45,54.75 L456.92,50.94 L457.39,47.47 L457.85,44.35 L458.32,41.57 L458.79,39.14 L459.26,37.02 L459.73,35.20 L460.20,33.65 L460.67,32.35 L461.13,31.27 L461.60,30.38 L462.07,29.65 L462.54,29.07 L463.01,28.60 L463.48,28.23 L463.95,27.94 L464.42,27.71 L464.88,27.54 L465.35,27.41 L465.82,27.31 L466.29,27.30 L466.76,27.30 L467.23,27.30 L467.70,27.76 L468.16,28.38 L468.63,29.03 L469.10,29.70 L469.57,30.37 L470.04,31.06 L470.51,31.76 L470.98,32.46 L471.44,33.18 L471.91,33.90 L472.38,34.64 L472.85,35.38 L473.32,36.15 L473.79,36.94 L474.26,37.75 L474.73,38.60 L475.19,39.49 L475.66,40.43 L476.13,41.44 L476.60,42.52" stroke="#58d46b" stroke-width="1.35"/><path d="M373.50,27.41 L373.97,27.34 L374.44,27.30 L374.91,27.30 L375.37,27.30 L375.84,27.41 L376.31,27.82 L376.78,28.25 L377.25,28.69 L377.72,29.14 L378.19,29.59 L378.65,30.05 L379.12,30.52 L379.59,31.00 L380.06,31.48 L380.53,31.97 L381.00,32.48 L381.47,33.00 L381.94,33.53 L382.40,34.10 L382.87,34.70 L383.34,35.34 L383.81,36.03 L384.28,36.80 L384.75,37.65 L385.22,38.61 L385.68,39.70 L386.15,40.94 L386.62,42.37 L387.09,44.00 L387.56,45.87 L388.03,48.01 L388.50,50.43 L388.96,53.15 L389.43,56.18 L389.90,59.51 L390.37,63.15 L390.84,67.05 L391.31,71.18 L391.78,75.48 L392.25,79.89 L392.71,81.93 L393.18,76.53 L393.65,71.20 L394.12,66.05 L394.59,61.14 L395.06,56.55 L395.53,52.32 L395.99,48.47 L396.46,45.03 L396.93,41.99 L397.40,39.34 L397.87,37.06 L398.34,35.13 L398.81,33.50 L399.27,32.16 L399.74,31.06 L400.21,30.17 L400.68,29.47 L401.15,28.91 L401.62,28.47 L402.09,28.13 L402.56,27.88 L403.02,27.68 L403.49,27.54 L403.96,27.43 L404.43,27.36 L404.90,27.30 L405.37,27.30 L405.84,27.30 L406.30,27.47 L406.77,27.88 L407.24,28.31 L407.71,28.75 L408.18,29.20 L408.65,29.65 L409.12,30.12 L409.58,30.58 L410.05,31.06 L410.52,31.55 L410.99,32.04 L411.46,32.54 L411.93,33.07 L412.40,33.61 L412.87,34.17 L413.33,34.78 L413.80,35.42 L414.27,36.13 L414.74,36.90 L415.21,37.77 L415.68,38.74 L416.15,39.85 L416.61,41.12 L417.08,42.57 L417.55,44.23 L418.02,46.14 L418.49,48.31 L418.96,50.77 L419.43,53.53 L419.89,56.60 L420.36,59.97 L420.83,63.64 L421.30,67.58 L421.77,71.74 L422.24,76.06 L422.71,80.47 L423.18,81.22 L423.64,75.83 L424.11,70.52 L424.58,65.39 L425.05,60.52 L425.52,55.97 L425.99,51.79 L426.46,48.00 L426.92,44.61 L427.39,41.62 L427.86,39.02 L428.33,36.79 L428.80,34.90 L429.27,33.31 L429.74,32.00 L430.20,30.93 L430.67,30.07 L431.14,29.38 L431.61,28.84 L432.08,28.42 L432.55,28.09 L433.02,27.85 L433.49,27.66 L433.95,27.52 L434.42,27.42 L434.89,27.35 L435.36,27.30 L435.83,27.30 L436.30,27.30 L436.77,27.35 L437.23,27.75 L437.70,28.18 L438.17,28.61 L438.64,29.06 L439.11,29.52 L439.58,29.98 L440.05,30.44 L440.51,30.92 L440.98,31.40 L441.45,31.89 L441.92,32.39 L442.39,32.91 L442.86,33.44 L443.33,34.00 L443.80,34.59 L444.26,35.23 L444.73,35.91 L445.20,36.67 L445.67,37.50 L446.14,38.44 L446.61,39.51 L447.08,40.72 L447.54,42.12 L448.01,43.72 L448.48,45.55 L448.95,47.64 L449.42,50.01 L449.89,52.68 L450.36,55.66 L450.82,58.94 L451.29,62.53 L451.76,66.39 L452.23,70.49 L452.70,74.76 L453.17,79.16 L453.64,82.82 L454.11,77.42 L454.57,72.07 L455.04,66.88 L455.51,61.93 L455.98,57.28 L456.45,52.99 L456.92,49.08 L457.39,45.57 L457.85,42.46 L458.32,39.75 L458.79,37.41 L459.26,35.42 L459.73,33.75 L460.20,32.36 L460.67,31.23 L461.13,30.31 L461.60,29.57 L462.07,28.99 L462.54,28.53 L463.01,28.18 L463.48,27.91 L463.95,27.71 L464.42,27.56 L464.88,27.45 L465.35,27.37 L465.82,27.31 L466.29,27.30 L466.76,27.30 L467.23,27.30 L467.70,27.63 L468.16,28.05 L468.63,28.48 L469.10,28.93 L469.57,29.38 L470.04,29.84 L470.51,30.31 L470.98,30.78 L471.44,31.26 L471.91,31.75 L472.38,32.24 L472.85,32.76 L473.32,33.28 L473.79,33.84 L474.26,34.42 L474.73,35.04 L475.19,35.70 L475.66,36.43 L476.13,37.24 L476.60,38.15" stroke="#42b655" stroke-width="1.35"/><path d="M373.50,27.36 L373.97,27.32 L374.44,27.30 L374.91,27.30 L375.37,27.30 L375.84,27.36 L376.31,27.56 L376.78,27.78 L377.25,28.00 L377.72,28.22 L378.19,28.45 L378.65,28.69 L379.12,28.92 L379.59,29.17 L380.06,29.41 L380.53,29.67 L381.00,29.93 L381.47,30.21 L381.94,30.51 L382.40,30.84 L382.87,31.20 L383.34,31.61 L383.81,32.08 L384.28,32.63 L384.75,33.27 L385.22,34.05 L385.68,34.97 L386.15,36.08 L386.62,37.41 L387.09,39.00 L387.56,40.89 L388.03,43.10 L388.50,45.67 L388.96,48.62 L389.43,51.98 L389.90,55.73 L390.37,59.86 L390.84,64.35 L391.31,69.14 L391.78,74.16 L392.25,79.32 L392.71,81.82 L393.18,75.98 L393.65,70.24 L394.12,64.72 L394.59,59.51 L395.06,54.69 L395.53,50.31 L395.99,46.39 L396.46,42.95 L396.93,39.97 L397.40,37.43 L397.87,35.30 L398.34,33.54 L398.81,32.10 L399.27,30.95 L399.74,30.03 L400.21,29.32 L400.68,28.77 L401.15,28.35 L401.62,28.04 L402.09,27.81 L402.56,27.64 L403.02,27.52 L403.49,27.43 L403.96,27.37 L404.43,27.33 L404.90,27.30 L405.37,27.30 L405.84,27.30 L406.30,27.39 L406.77,27.59 L407.24,27.81 L407.71,28.03 L408.18,28.25 L408.65,28.48 L409.12,28.72 L409.58,28.95 L410.05,29.20 L410.52,29.45 L410.99,29.70 L411.46,29.97 L411.93,30.25 L412.40,30.55 L412.87,30.88 L413.33,31.25 L413.80,31.67 L414.27,32.14 L414.74,32.70 L415.21,33.37 L415.68,34.16 L416.15,35.11 L416.61,36.24 L417.08,37.61 L417.55,39.23 L418.02,41.16 L418.49,43.41 L418.96,46.03 L419.43,49.04 L419.89,52.45 L420.36,56.25 L420.83,60.43 L421.30,64.96 L421.77,69.79 L422.24,74.83 L422.71,80.00 L423.18,81.06 L423.64,75.22 L424.11,69.50 L424.58,64.02 L425.05,58.86 L425.52,54.09 L425.99,49.77 L426.46,45.91 L426.92,42.53 L427.39,39.61 L427.86,37.13 L428.33,35.05 L428.80,33.33 L429.27,31.94 L429.74,30.82 L430.20,29.93 L430.67,29.24 L431.14,28.71 L431.61,28.31 L432.08,28.01 L432.55,27.78 L433.02,27.62 L433.49,27.50 L433.95,27.42 L434.42,27.36 L434.89,27.32 L435.36,27.30 L435.83,27.30 L436.30,27.30 L436.77,27.33 L437.23,27.53 L437.70,27.74 L438.17,27.96 L438.64,28.19 L439.11,28.42 L439.58,28.65 L440.05,28.88 L440.51,29.12 L440.98,29.37 L441.45,29.63 L441.92,29.89 L442.39,30.17 L442.86,30.46 L443.33,30.78 L443.80,31.14 L444.26,31.54 L444.73,32.00 L445.20,32.53 L445.67,33.16 L446.14,33.91 L446.61,34.81 L447.08,35.89 L447.54,37.18 L448.01,38.72 L448.48,40.55 L448.95,42.71 L449.42,45.22 L449.89,48.11 L450.36,51.40 L450.82,55.08 L451.29,59.16 L451.76,63.59 L452.23,68.33 L452.70,73.32 L453.17,78.46 L453.64,82.79 L454.11,76.94 L454.57,71.18 L455.04,65.61 L455.51,60.34 L455.98,55.46 L456.45,51.00 L456.92,47.01 L457.39,43.48 L457.85,40.43 L458.32,37.82 L458.79,35.62 L459.26,33.80 L459.73,32.32 L460.20,31.12 L460.67,30.17 L461.13,29.43 L461.60,28.85 L462.07,28.41 L462.54,28.09 L463.01,27.84 L463.48,27.66 L463.95,27.54 L464.42,27.44 L464.88,27.38 L465.35,27.33 L465.82,27.30 L466.29,27.30 L466.76,27.30 L467.23,27.30 L467.70,27.47 L468.16,27.68 L468.63,27.90 L469.10,28.12 L469.57,28.35 L470.04,28.58 L470.51,28.81 L470.98,29.05 L471.44,29.30 L471.91,29.55 L472.38,29.81 L472.85,30.08 L473.32,30.37 L473.79,30.69 L474.26,31.03 L474.73,31.41 L475.19,31.85 L475.66,32.36 L476.13,32.96 L476.60,33.67" stroke="#2f873d" stroke-width="1.35"/><path d="M373.50,27.34 L373.97,27.33 L374.44,27.31 L374.91,27.31 L375.37,27.30 L375.84,27.30 L376.31,27.30 L376.78,27.30 L377.25,27.30 L377.72,27.30 L378.19,27.30 L378.65,27.31 L379.12,27.31 L379.59,27.32 L380.06,27.33 L380.53,27.35 L381.00,27.37 L381.47,27.41 L381.94,27.47 L382.40,27.56 L382.87,27.68 L383.34,27.85 L383.81,28.08 L384.28,28.40 L384.75,28.83 L385.22,29.39 L385.68,30.14 L386.15,31.09 L386.62,32.31 L387.09,33.83 L387.56,35.70 L388.03,37.97 L388.50,40.67 L388.96,43.85 L389.43,47.53 L389.90,51.70 L390.37,56.36 L390.84,61.47 L391.31,66.95 L391.78,72.74 L392.25,78.70 L392.71,81.69 L393.18,75.33 L393.65,69.11 L394.12,63.17 L394.59,57.63 L395.06,52.57 L395.53,48.06 L395.99,44.11 L396.46,40.71 L396.93,37.85 L397.40,35.48 L397.87,33.55 L398.34,32.01 L398.81,30.79 L399.27,29.86 L399.74,29.14 L400.21,28.61 L400.68,28.22 L401.15,27.93 L401.62,27.73 L402.09,27.59 L402.56,27.49 L403.02,27.42 L403.49,27.38 L403.96,27.35 L404.43,27.33 L404.90,27.32 L405.37,27.31 L405.84,27.30 L406.30,27.30 L406.77,27.30 L407.24,27.30 L407.71,27.30 L408.18,27.30 L408.65,27.30 L409.12,27.31 L409.58,27.31 L410.05,27.32 L410.52,27.33 L410.99,27.35 L411.46,27.38 L411.93,27.42 L412.40,27.48 L412.87,27.57 L413.33,27.70 L413.80,27.87 L414.27,28.12 L414.74,28.45 L415.21,28.89 L415.68,29.48 L416.15,30.25 L416.61,31.24 L417.08,32.49 L417.55,34.05 L418.02,35.97 L418.49,38.30 L418.96,41.06 L419.43,44.31 L419.89,48.05 L420.36,52.28 L420.83,57.00 L421.30,62.16 L421.77,67.70 L422.24,73.51 L422.71,79.49 L423.18,80.86 L423.64,74.51 L424.11,68.31 L424.58,62.41 L425.05,56.94 L425.52,51.95 L425.99,47.51 L426.46,43.63 L426.92,40.31 L427.39,37.51 L427.86,35.20 L428.33,33.33 L428.80,31.83 L429.27,30.66 L429.74,29.75 L430.20,29.06 L430.67,28.55 L431.14,28.17 L431.61,27.90 L432.08,27.71 L432.55,27.57 L433.02,27.48 L433.49,27.42 L433.95,27.37 L434.42,27.35 L434.89,27.33 L435.36,27.32 L435.83,27.31 L436.30,27.30 L436.77,27.30 L437.23,27.30 L437.70,27.30 L438.17,27.30 L438.64,27.30 L439.11,27.30 L439.58,27.30 L440.05,27.31 L440.51,27.32 L440.98,27.33 L441.45,27.34 L441.92,27.37 L442.39,27.41 L442.86,27.46 L443.33,27.54 L443.80,27.65 L444.26,27.81 L444.73,28.04 L445.20,28.34 L445.67,28.75 L446.14,29.29 L446.61,30.00 L447.08,30.92 L447.54,32.09 L448.01,33.56 L448.48,35.36 L448.95,37.56 L449.42,40.20 L449.89,43.30 L450.36,46.89 L450.82,50.98 L451.29,55.56 L451.76,60.60 L452.23,66.03 L452.70,71.77 L453.17,77.71 L453.64,82.74 L454.11,76.38 L454.57,70.12 L455.04,64.12 L455.51,58.51 L455.98,53.37 L456.45,48.77 L456.92,44.72 L457.39,41.24 L457.85,38.29 L458.32,35.84 L458.79,33.84 L459.26,32.24 L459.73,30.97 L460.20,29.99 L460.67,29.25 L461.13,28.69 L461.60,28.27 L462.07,27.97 L462.54,27.76 L463.01,27.61 L463.48,27.50 L463.95,27.43 L464.42,27.38 L464.88,27.35 L465.35,27.33 L465.82,27.32 L466.29,27.31 L466.76,27.31 L467.23,27.30 L467.70,27.30 L468.16,27.30 L468.63,27.30 L469.10,27.30 L469.57,27.30 L470.04,27.30 L470.51,27.31 L470.98,27.31 L471.44,27.32 L471.91,27.34 L472.38,27.36 L472.85,27.39 L473.32,27.44 L473.79,27.51 L474.26,27.62 L474.73,27.76 L475.19,27.96 L475.66,28.24 L476.13,28.61 L476.60,29.11" stroke="#2a4d2e" stroke-width="1.25"/></g><g clip-path="url(#cd1)" fill="none"><path d="M476.60,27.40 L477.07,27.36 L477.54,27.33 L478.01,27.32 L478.47,27.31 L478.94,27.30 L479.41,27.30 L479.88,27.31 L480.35,27.32 L480.82,27.34 L481.29,27.37 L481.75,27.41 L482.22,27.46 L482.69,27.54 L483.16,27.64 L483.63,27.78 L484.10,27.97 L484.57,28.21 L485.04,28.53 L485.50,28.94 L485.97,29.45 L486.44,30.10 L486.91,30.90 L487.38,31.89 L487.85,33.09 L488.32,34.53 L488.78,36.25 L489.25,38.26 L489.72,40.61 L490.19,43.30 L490.66,46.35 L491.13,49.76 L491.60,53.54 L492.06,57.66 L492.53,62.10 L493.00,66.82 L493.47,71.74 L493.94,76.81 L494.41,81.94 L494.88,78.82 L495.35,73.72 L495.81,68.72 L496.28,63.92 L496.75,59.37 L497.22,55.12 L497.69,51.20 L498.16,47.64 L498.63,44.45 L499.09,41.62 L499.56,39.14 L500.03,37.00 L500.50,35.17 L500.97,33.62 L501.44,32.33 L501.91,31.26 L502.38,30.39 L502.84,29.69 L503.31,29.12 L503.78,28.68 L504.25,28.33 L504.72,28.06 L505.19,27.85 L505.66,27.69 L506.12,27.58 L506.59,27.49 L507.06,27.43 L507.53,27.38 L508.00,27.35 L508.47,27.32 L508.94,27.31 L509.40,27.30 L509.87,27.30 L510.34,27.30 L510.81,27.31 L511.28,27.33 L511.75,27.35 L512.22,27.38 L512.69,27.43 L513.15,27.50 L513.62,27.59 L514.09,27.71 L514.56,27.87 L515.03,28.08 L515.50,28.36 L515.97,28.72 L516.43,29.17 L516.90,29.75 L517.37,30.47 L517.84,31.36 L518.31,32.45 L518.78,33.76 L519.25,35.34 L519.71,37.20 L520.18,39.37 L520.65,41.88 L521.12,44.75 L521.59,47.98 L522.06,51.57 L522.53,55.52 L523.00,59.81 L523.46,64.39 L523.93,69.21 L524.40,74.22 L524.87,79.33 L525.34,81.43 L525.81,76.31 L526.28,71.25 L526.74,66.34 L527.21,61.65 L527.68,57.24 L528.15,53.15 L528.62,49.41 L529.09,46.03 L529.56,43.01 L530.02,40.36 L530.49,38.05 L530.96,36.07 L531.43,34.38 L531.90,32.96 L532.37,31.78 L532.84,30.81 L533.31,30.03 L533.77,29.39 L534.24,28.89 L534.71,28.49 L535.18,28.19 L535.65,27.95 L536.12,27.77 L536.59,27.63 L537.05,27.53 L537.52,27.46 L537.99,27.40 L538.46,27.36 L538.93,27.34 L539.40,27.32 L539.87,27.31 L540.33,27.30 L540.80,27.30 L541.27,27.31 L541.74,27.33 L542.21,27.35 L542.68,27.38 L543.15,27.43 L543.62,27.49 L544.08,27.58 L544.55,27.70 L545.02,27.85 L545.49,28.06 L545.96,28.33 L546.43,28.68 L546.90,29.13 L547.36,29.70 L547.83,30.40 L548.30,31.28 L548.77,32.35 L549.24,33.65 L549.71,35.20 L550.18,37.03 L550.64,39.18 L551.11,41.66 L551.58,44.50 L552.05,47.70 L552.52,51.26 L552.99,55.18 L553.46,59.44 L553.93,64.00 L554.39,68.80 L554.86,73.80 L555.33,78.90 L555.80,81.85 L556.27,76.73 L556.74,71.66 L557.21,66.74 L557.67,62.03 L558.14,57.59 L558.61,53.48 L559.08,49.70 L559.55,46.29 L560.02,43.25 L560.49,40.57 L560.95,38.23 L561.42,36.22 L561.89,34.51 L562.36,33.07 L562.83,31.87 L563.30,30.89 L563.77,30.08 L564.24,29.44 L564.70,28.93 L565.17,28.52 L565.64,28.21 L566.11,27.97 L566.58,27.78 L567.05,27.64 L567.52,27.54 L567.98,27.46 L568.45,27.41 L568.92,27.37 L569.39,27.34 L569.86,27.32 L570.33,27.31 L570.80,27.30 L571.26,27.30 L571.73,27.31 L572.20,27.32 L572.67,27.35 L573.14,27.38 L573.61,27.42 L574.08,27.48 L574.55,27.57 L575.01,27.69 L575.48,27.84 L575.95,28.04 L576.42,28.31 L576.89,28.65 L577.36,29.09 L577.83,29.65 L578.29,30.34 L578.76,31.20 L579.23,32.25 L579.70,33.53" stroke="#b4f3bc" stroke-width="1.35"/><path d="M476.60,27.38 L477.07,27.35 L477.54,27.33 L478.01,27.31 L478.47,27.30 L478.94,27.30 L479.41,27.30 L479.88,27.31 L480.35,27.32 L480.82,27.33 L481.29,27.36 L481.75,27.39 L482.22,27.44 L482.69,27.51 L483.16,27.61 L483.63,27.74 L484.10,27.91 L484.57,28.14 L485.04,28.44 L485.50,28.82 L485.97,29.31 L486.44,29.94 L486.91,30.72 L487.38,31.69 L487.85,32.87 L488.32,34.30 L488.78,36.01 L489.25,38.02 L489.72,40.38 L490.19,43.09 L490.66,46.17 L491.13,49.64 L491.60,53.48 L492.06,57.69 L492.53,62.22 L493.00,67.03 L493.47,72.07 L493.94,77.25 L494.41,82.48 L494.88,78.18 L495.35,72.98 L495.81,67.92 L496.28,63.06 L496.75,58.47 L497.22,54.21 L497.69,50.30 L498.16,46.76 L498.63,43.61 L499.09,40.83 L499.56,38.42 L500.03,36.34 L500.50,34.58 L500.97,33.10 L501.44,31.88 L501.91,30.88 L502.38,30.07 L502.84,29.42 L503.31,28.90 L503.78,28.50 L504.25,28.19 L504.72,27.95 L505.19,27.76 L505.66,27.63 L506.12,27.53 L506.59,27.45 L507.06,27.40 L507.53,27.36 L508.00,27.34 L508.47,27.32 L508.94,27.31 L509.40,27.30 L509.87,27.30 L510.34,27.30 L510.81,27.31 L511.28,27.32 L511.75,27.34 L512.22,27.37 L512.69,27.42 L513.15,27.48 L513.62,27.56 L514.09,27.67 L514.56,27.82 L515.03,28.01 L515.50,28.27 L515.97,28.61 L516.43,29.05 L516.90,29.60 L517.37,30.30 L517.84,31.17 L518.31,32.24 L518.78,33.54 L519.25,35.10 L519.71,36.96 L520.18,39.13 L520.65,41.66 L521.12,44.55 L521.59,47.83 L522.06,51.48 L522.53,55.50 L523.00,59.87 L523.46,64.55 L523.93,69.48 L524.40,74.60 L524.87,79.81 L525.34,80.84 L525.81,75.62 L526.28,70.48 L526.74,65.50 L527.21,60.77 L527.68,56.34 L528.15,52.24 L528.62,48.52 L529.09,45.17 L529.56,42.20 L530.02,39.60 L530.49,37.36 L530.96,35.44 L531.43,33.82 L531.90,32.47 L532.37,31.36 L532.84,30.46 L533.31,29.73 L533.77,29.15 L534.24,28.69 L534.71,28.33 L535.18,28.06 L535.65,27.85 L536.12,27.69 L536.59,27.58 L537.05,27.49 L537.52,27.43 L537.99,27.38 L538.46,27.35 L538.93,27.33 L539.40,27.31 L539.87,27.31 L540.33,27.30 L540.80,27.30 L541.27,27.31 L541.74,27.32 L542.21,27.34 L542.68,27.37 L543.15,27.41 L543.62,27.47 L544.08,27.55 L544.55,27.66 L545.02,27.80 L545.49,28.00 L545.96,28.25 L546.43,28.58 L546.90,29.01 L547.36,29.55 L547.83,30.24 L548.30,31.09 L548.77,32.14 L549.24,33.42 L549.71,34.96 L550.18,36.79 L550.64,38.94 L551.11,41.44 L551.58,44.30 L552.05,47.54 L552.52,51.17 L552.99,55.16 L553.46,59.50 L553.93,64.16 L554.39,69.07 L554.86,74.17 L555.33,79.38 L555.80,81.27 L556.27,76.05 L556.74,70.90 L557.21,65.91 L557.67,61.15 L558.14,56.69 L558.61,52.57 L559.08,48.81 L559.55,45.43 L560.02,42.43 L560.49,39.80 L560.95,37.53 L561.42,35.59 L561.89,33.95 L562.36,32.58 L562.83,31.45 L563.30,30.53 L563.77,29.78 L564.24,29.19 L564.70,28.72 L565.17,28.36 L565.64,28.08 L566.11,27.87 L566.58,27.70 L567.05,27.58 L567.52,27.50 L567.98,27.43 L568.45,27.38 L568.92,27.35 L569.39,27.33 L569.86,27.31 L570.33,27.31 L570.80,27.30 L571.26,27.30 L571.73,27.31 L572.20,27.32 L572.67,27.34 L573.14,27.37 L573.61,27.41 L574.08,27.46 L574.55,27.54 L575.01,27.65 L575.48,27.79 L575.95,27.98 L576.42,28.23 L576.89,28.55 L577.36,28.97 L577.83,29.50 L578.29,30.18 L578.76,31.01 L579.23,32.05 L579.70,33.31" stroke="#92eba0" stroke-width="1.35"/><path d="M476.60,27.36 L477.07,27.34 L477.54,27.32 L478.01,27.31 L478.47,27.30 L478.94,27.30 L479.41,27.30 L479.88,27.31 L480.35,27.31 L480.82,27.33 L481.29,27.35 L481.75,27.38 L482.22,27.43 L482.69,27.49 L483.16,27.57 L483.63,27.69 L484.10,27.85 L484.57,28.06 L485.04,28.34 L485.50,28.71 L485.97,29.18 L486.44,29.78 L486.91,30.54 L487.38,31.48 L487.85,32.65 L488.32,34.06 L488.78,35.76 L489.25,37.77 L489.72,40.14 L490.19,42.87 L490.66,45.99 L491.13,49.51 L491.60,53.43 L492.06,57.71 L492.53,62.34 L493.00,67.26 L493.47,72.41 L493.94,77.70 L494.41,82.85 L494.88,77.51 L495.35,72.23 L495.81,67.09 L496.28,62.18 L496.75,57.56 L497.22,53.28 L497.69,49.38 L498.16,45.88 L498.63,42.77 L499.09,40.05 L499.56,37.70 L500.03,35.69 L500.50,34.01 L500.97,32.60 L501.44,31.45 L501.91,30.51 L502.38,29.76 L502.84,29.16 L503.31,28.70 L503.78,28.33 L504.25,28.06 L504.72,27.85 L505.19,27.69 L505.66,27.57 L506.12,27.49 L506.59,27.42 L507.06,27.38 L507.53,27.35 L508.00,27.33 L508.47,27.31 L508.94,27.31 L509.40,27.30 L509.87,27.30 L510.34,27.30 L510.81,27.31 L511.28,27.32 L511.75,27.34 L512.22,27.36 L512.69,27.40 L513.15,27.45 L513.62,27.53 L514.09,27.63 L514.56,27.76 L515.03,27.95 L515.50,28.19 L515.97,28.51 L516.43,28.93 L516.90,29.46 L517.37,30.13 L517.84,30.98 L518.31,32.02 L518.78,33.31 L519.25,34.86 L519.71,36.71 L520.18,38.89 L520.65,41.43 L521.12,44.35 L521.59,47.67 L522.06,51.39 L522.53,55.49 L523.00,59.95 L523.46,64.72 L523.93,69.77 L524.40,74.99 L524.87,80.32 L525.34,80.23 L525.81,74.91 L526.28,69.68 L526.74,64.64 L527.21,59.87 L527.68,55.41 L528.15,51.32 L528.62,47.61 L529.09,44.30 L529.56,41.39 L530.02,38.85 L530.49,36.67 L530.96,34.83 L531.43,33.28 L531.90,32.01 L532.37,30.96 L532.84,30.12 L533.31,29.45 L533.77,28.92 L534.24,28.51 L534.71,28.19 L535.18,27.94 L535.65,27.76 L536.12,27.63 L536.59,27.53 L537.05,27.45 L537.52,27.40 L537.99,27.36 L538.46,27.34 L538.93,27.32 L539.40,27.31 L539.87,27.30 L540.33,27.30 L540.80,27.30 L541.27,27.31 L541.74,27.32 L542.21,27.34 L542.68,27.36 L543.15,27.40 L543.62,27.45 L544.08,27.52 L544.55,27.62 L545.02,27.75 L545.49,27.93 L545.96,28.17 L546.43,28.48 L546.90,28.89 L547.36,29.41 L547.83,30.07 L548.30,30.90 L548.77,31.93 L549.24,33.19 L549.71,34.72 L550.18,36.54 L550.64,38.70 L551.11,41.21 L551.58,44.10 L552.05,47.38 L552.52,51.06 L552.99,55.13 L553.46,59.56 L553.93,64.32 L554.39,69.34 L554.86,74.56 L555.33,79.88 L555.80,80.67 L556.27,75.34 L556.74,70.11 L557.21,65.05 L557.67,60.25 L558.14,55.77 L558.61,51.64 L559.08,47.90 L559.55,44.56 L560.02,41.61 L560.49,39.05 L560.95,36.84 L561.42,34.97 L561.89,33.40 L562.36,32.10 L562.83,31.04 L563.30,30.18 L563.77,29.50 L564.24,28.96 L564.70,28.54 L565.17,28.21 L565.64,27.96 L566.11,27.78 L566.58,27.64 L567.05,27.53 L567.52,27.46 L567.98,27.40 L568.45,27.37 L568.92,27.34 L569.39,27.32 L569.86,27.31 L570.33,27.30 L570.80,27.30 L571.26,27.30 L571.73,27.31 L572.20,27.32 L572.67,27.34 L573.14,27.36 L573.61,27.39 L574.08,27.44 L574.55,27.51 L575.01,27.61 L575.48,27.74 L575.95,27.91 L576.42,28.15 L576.89,28.45 L577.36,28.85 L577.83,29.36 L578.29,30.01 L578.76,30.83 L579.23,31.84 L579.70,33.08" stroke="#74e184" stroke-width="1.35"/><path d="M476.60,27.35 L477.07,27.33 L477.54,27.32 L478.01,27.31 L478.47,27.30 L478.94,27.30 L479.41,27.30 L479.88,27.31 L480.35,27.31 L480.82,27.33 L481.29,27.34 L481.75,27.37 L482.22,27.41 L482.69,27.47 L483.16,27.54 L483.63,27.65 L484.10,27.80 L484.57,27.99 L485.04,28.25 L485.50,28.60 L485.97,29.05 L486.44,29.63 L486.91,30.36 L487.38,31.28 L487.85,32.42 L488.32,33.82 L488.78,35.50 L489.25,37.52 L489.72,39.89 L490.19,42.65 L490.66,45.81 L491.13,49.38 L491.60,53.36 L492.06,57.74 L492.53,62.47 L493.00,67.50 L493.47,72.76 L493.94,78.17 L494.41,82.27 L494.88,76.82 L495.35,71.44 L495.81,66.23 L496.28,61.26 L496.75,56.62 L497.22,52.34 L497.69,48.46 L498.16,44.98 L498.63,41.93 L499.09,39.27 L499.56,36.99 L500.03,35.06 L500.50,33.44 L500.97,32.12 L501.44,31.03 L501.91,30.16 L502.38,29.47 L502.84,28.93 L503.31,28.51 L503.78,28.18 L504.25,27.94 L504.72,27.76 L505.19,27.62 L505.66,27.52 L506.12,27.45 L506.59,27.40 L507.06,27.36 L507.53,27.34 L508.00,27.32 L508.47,27.31 L508.94,27.30 L509.40,27.30 L509.87,27.30 L510.34,27.30 L510.81,27.31 L511.28,27.32 L511.75,27.33 L512.22,27.36 L512.69,27.39 L513.15,27.43 L513.62,27.50 L514.09,27.59 L514.56,27.72 L515.03,27.89 L515.50,28.11 L515.97,28.41 L516.43,28.81 L516.90,29.31 L517.37,29.97 L517.84,30.79 L518.31,31.81 L518.78,33.07 L519.25,34.61 L519.71,36.45 L520.18,38.64 L520.65,41.19 L521.12,44.15 L521.59,47.51 L522.06,51.29 L522.53,55.46 L523.00,60.02 L523.46,64.90 L523.93,70.06 L524.40,75.41 L524.87,80.85 L525.34,79.59 L525.81,74.17 L526.28,68.86 L526.74,63.75 L527.21,58.94 L527.68,54.47 L528.15,50.38 L528.62,46.70 L529.09,43.43 L529.56,40.57 L530.02,38.10 L530.49,36.00 L530.96,34.23 L531.43,32.76 L531.90,31.56 L532.37,30.58 L532.84,29.80 L533.31,29.19 L533.77,28.71 L534.24,28.34 L534.71,28.05 L535.18,27.84 L535.65,27.68 L536.12,27.57 L536.59,27.48 L537.05,27.42 L537.52,27.38 L537.99,27.35 L538.46,27.33 L538.93,27.32 L539.40,27.31 L539.87,27.30 L540.33,27.30 L540.80,27.30 L541.27,27.31 L541.74,27.32 L542.21,27.33 L542.68,27.35 L543.15,27.39 L543.62,27.43 L544.08,27.49 L544.55,27.58 L545.02,27.70 L545.49,27.87 L545.96,28.09 L546.43,28.38 L546.90,28.77 L547.36,29.27 L547.83,29.91 L548.30,30.71 L548.77,31.72 L549.24,32.96 L549.71,34.47 L550.18,36.29 L550.64,38.44 L551.11,40.97 L551.58,43.89 L552.05,47.22 L552.52,50.96 L552.99,55.10 L553.46,59.63 L553.93,64.49 L554.39,69.63 L554.86,74.96 L555.33,80.40 L555.80,80.04 L556.27,74.61 L556.74,69.29 L557.21,64.17 L557.67,59.32 L558.14,54.82 L558.61,50.70 L559.08,46.99 L559.55,43.69 L560.02,40.79 L560.49,38.29 L560.95,36.16 L561.42,34.36 L561.89,32.87 L562.36,31.65 L562.83,30.65 L563.30,29.86 L563.77,29.23 L564.24,28.74 L564.70,28.36 L565.17,28.07 L565.64,27.86 L566.11,27.70 L566.58,27.58 L567.05,27.49 L567.52,27.43 L567.98,27.38 L568.45,27.35 L568.92,27.33 L569.39,27.32 L569.86,27.31 L570.33,27.30 L570.80,27.30 L571.26,27.30 L571.73,27.31 L572.20,27.32 L572.67,27.33 L573.14,27.35 L573.61,27.38 L574.08,27.43 L574.55,27.49 L575.01,27.57 L575.48,27.69 L575.95,27.85 L576.42,28.07 L576.89,28.36 L577.36,28.73 L577.83,29.22 L578.29,29.85 L578.76,30.64 L579.23,31.63 L579.70,32.85" stroke="#58d46b" stroke-width="1.35"/><path d="M476.60,27.34 L477.07,27.32 L477.54,27.31 L478.01,27.30 L478.47,27.30 L478.94,27.30 L479.41,27.30 L479.88,27.30 L480.35,27.31 L480.82,27.32 L481.29,27.34 L481.75,27.36 L482.22,27.39 L482.69,27.44 L483.16,27.51 L483.63,27.61 L484.10,27.74 L484.57,27.92 L485.04,28.17 L485.50,28.49 L485.97,28.92 L486.44,29.47 L486.91,30.18 L487.38,31.08 L487.85,32.19 L488.32,33.57 L488.78,35.25 L489.25,37.26 L489.72,39.64 L490.19,42.42 L490.66,45.61 L491.13,49.24 L491.60,53.30 L492.06,57.76 L492.53,62.60 L493.00,67.75 L493.47,73.14 L493.94,78.66 L494.41,81.66 L494.88,76.10 L495.35,70.62 L495.81,65.34 L496.28,60.32 L496.75,55.65 L497.22,51.37 L497.69,47.51 L498.16,44.08 L498.63,41.08 L499.09,38.49 L499.56,36.28 L500.03,34.43 L500.50,32.90 L500.97,31.65 L501.44,30.64 L501.91,29.83 L502.38,29.20 L502.84,28.71 L503.31,28.33 L503.78,28.05 L504.25,27.83 L504.72,27.68 L505.19,27.56 L505.66,27.48 L506.12,27.42 L506.59,27.38 L507.06,27.35 L507.53,27.33 L508.00,27.32 L508.47,27.31 L508.94,27.30 L509.40,27.30 L509.87,27.30 L510.34,27.30 L510.81,27.31 L511.28,27.32 L511.75,27.33 L512.22,27.35 L512.69,27.38 L513.15,27.42 L513.62,27.47 L514.09,27.56 L514.56,27.67 L515.03,27.82 L515.50,28.04 L515.97,28.32 L516.43,28.69 L516.90,29.17 L517.37,29.80 L517.84,30.59 L518.31,31.59 L518.78,32.84 L519.25,34.35 L519.71,36.19 L520.18,38.38 L520.65,40.95 L521.12,43.93 L521.59,47.34 L522.06,51.18 L522.53,55.44 L523.00,60.09 L523.46,65.09 L523.93,70.37 L524.40,75.84 L524.87,81.39 L525.34,78.93 L525.81,73.40 L526.28,68.00 L526.74,62.84 L527.21,57.99 L527.68,53.50 L528.15,49.43 L528.62,45.78 L529.09,42.56 L529.56,39.76 L530.02,37.36 L530.49,35.33 L530.96,33.64 L531.43,32.25 L531.90,31.12 L532.37,30.22 L532.84,29.50 L533.31,28.94 L533.77,28.51 L534.24,28.18 L534.71,27.93 L535.18,27.75 L535.65,27.61 L536.12,27.52 L536.59,27.45 L537.05,27.40 L537.52,27.36 L537.99,27.34 L538.46,27.32 L538.93,27.31 L539.40,27.31 L539.87,27.30 L540.33,27.30 L540.80,27.30 L541.27,27.31 L541.74,27.31 L542.21,27.33 L542.68,27.35 L543.15,27.37 L543.62,27.41 L544.08,27.47 L544.55,27.55 L545.02,27.66 L545.49,27.81 L545.96,28.02 L546.43,28.29 L546.90,28.65 L547.36,29.13 L547.83,29.74 L548.30,30.52 L548.77,31.50 L549.24,32.72 L549.71,34.22 L550.18,36.02 L550.64,38.18 L551.11,40.72 L551.58,43.67 L552.05,47.04 L552.52,50.85 L552.99,55.07 L553.46,59.70 L553.93,64.67 L554.39,69.92 L554.86,75.38 L555.33,80.94 L555.80,79.39 L556.27,73.85 L556.74,68.44 L557.21,63.25 L557.67,58.37 L558.14,53.86 L558.61,49.75 L559.08,46.06 L559.55,42.81 L560.02,39.97 L560.49,37.54 L560.95,35.49 L561.42,33.77 L561.89,32.36 L562.36,31.21 L562.83,30.29 L563.30,29.55 L563.77,28.98 L564.24,28.54 L564.70,28.21 L565.17,27.95 L565.64,27.76 L566.11,27.62 L566.58,27.52 L567.05,27.45 L567.52,27.40 L567.98,27.36 L568.45,27.34 L568.92,27.32 L569.39,27.31 L569.86,27.31 L570.33,27.30 L570.80,27.30 L571.26,27.30 L571.73,27.31 L572.20,27.31 L572.67,27.33 L573.14,27.34 L573.61,27.37 L574.08,27.41 L574.55,27.46 L575.01,27.54 L575.48,27.65 L575.95,27.80 L576.42,28.00 L576.89,28.26 L577.36,28.62 L577.83,29.08 L578.29,29.68 L578.76,30.45 L579.23,31.41 L579.70,32.61" stroke="#42b655" stroke-width="1.35"/><path d="M476.60,27.33 L477.07,27.32 L477.54,27.31 L478.01,27.30 L478.47,27.30 L478.94,27.30 L479.41,27.30 L479.88,27.30 L480.35,27.31 L480.82,27.32 L481.29,27.33 L481.75,27.35 L482.22,27.38 L482.69,27.42 L483.16,27.48 L483.63,27.57 L484.10,27.69 L484.57,27.86 L485.04,28.09 L485.50,28.39 L485.97,28.79 L486.44,29.32 L486.91,30.00 L487.38,30.87 L487.85,31.97 L488.32,33.32 L488.78,34.98 L489.25,36.99 L489.72,39.38 L490.19,42.18 L490.66,45.41 L491.13,49.10 L491.60,53.23 L492.06,57.79 L492.53,62.74 L493.00,68.01 L493.47,73.52 L493.94,79.18 L494.41,81.02 L494.88,75.35 L495.35,69.78 L495.81,64.42 L496.28,59.36 L496.75,54.67 L497.22,50.39 L497.69,46.56 L498.16,43.18 L498.63,40.24 L499.09,37.72 L499.56,35.59 L500.03,33.83 L500.50,32.38 L500.97,31.20 L501.44,30.26 L501.91,29.52 L502.38,28.95 L502.84,28.51 L503.31,28.17 L503.78,27.92 L504.25,27.74 L504.72,27.61 L505.19,27.51 L505.66,27.44 L506.12,27.39 L506.59,27.36 L507.06,27.34 L507.53,27.32 L508.00,27.31 L508.47,27.31 L508.94,27.30 L509.40,27.30 L509.87,27.30 L510.34,27.30 L510.81,27.31 L511.28,27.31 L511.75,27.32 L512.22,27.34 L512.69,27.36 L513.15,27.40 L513.62,27.45 L514.09,27.52 L514.56,27.63 L515.03,27.77 L515.50,27.96 L515.97,28.22 L516.43,28.57 L516.90,29.03 L517.37,29.63 L517.84,30.40 L518.31,31.38 L518.78,32.60 L519.25,34.10 L519.71,35.92 L520.18,38.11 L520.65,40.70 L521.12,43.71 L521.59,47.17 L522.06,51.07 L522.53,55.42 L523.00,60.17 L523.46,65.29 L523.93,70.69 L524.40,76.29 L524.87,81.97 L525.34,78.23 L525.81,72.60 L526.28,67.11 L526.74,61.89 L527.21,57.01 L527.68,52.52 L528.15,48.46 L528.62,44.84 L529.09,41.68 L529.56,38.95 L530.02,36.63 L530.49,34.68 L530.96,33.08 L531.43,31.77 L531.90,30.71 L532.37,29.88 L532.84,29.22 L533.31,28.72 L533.77,28.33 L534.24,28.04 L534.71,27.83 L535.18,27.67 L535.65,27.55 L536.12,27.47 L536.59,27.42 L537.05,27.38 L537.52,27.35 L537.99,27.33 L538.46,27.32 L538.93,27.31 L539.40,27.30 L539.87,27.30 L540.33,27.30 L540.80,27.30 L541.27,27.31 L541.74,27.31 L542.21,27.32 L542.68,27.34 L543.15,27.36 L543.62,27.40 L544.08,27.45 L544.55,27.52 L545.02,27.62 L545.49,27.75 L545.96,27.94 L546.43,28.20 L546.90,28.54 L547.36,28.99 L547.83,29.58 L548.30,30.33 L548.77,31.29 L549.24,32.48 L549.71,33.96 L550.18,35.76 L550.64,37.91 L551.11,40.47 L551.58,43.44 L552.05,46.86 L552.52,50.73 L552.99,55.04 L553.46,59.77 L553.93,64.85 L554.39,70.24 L554.86,75.82 L555.33,81.50 L555.80,78.70 L556.27,73.06 L556.74,67.56 L557.21,62.31 L557.67,57.39 L558.14,52.87 L558.61,48.77 L559.08,45.13 L559.55,41.93 L560.02,39.16 L560.49,36.81 L560.95,34.83 L561.42,33.20 L561.89,31.86 L562.36,30.79 L562.83,29.94 L563.30,29.27 L563.77,28.75 L564.24,28.36 L564.70,28.06 L565.17,27.84 L565.64,27.68 L566.11,27.56 L566.58,27.48 L567.05,27.42 L567.52,27.38 L567.98,27.35 L568.45,27.33 L568.92,27.32 L569.39,27.31 L569.86,27.30 L570.33,27.30 L570.80,27.30 L571.26,27.30 L571.73,27.31 L572.20,27.31 L572.67,27.32 L573.14,27.34 L573.61,27.36 L574.08,27.39 L574.55,27.44 L575.01,27.51 L575.48,27.61 L575.95,27.74 L576.42,27.93 L576.89,28.17 L577.36,28.51 L577.83,28.95 L578.29,29.52 L578.76,30.26 L579.23,31.20 L579.70,32.38" stroke="#2f873d" stroke-width="1.35"/><path d="M476.60,27.32 L477.07,27.31 L477.54,27.31 L478.01,27.30 L478.47,27.30 L478.94,27.30 L479.41,27.30 L479.88,27.30 L480.35,27.31 L480.82,27.31 L481.29,27.33 L481.75,27.34 L482.22,27.37 L482.69,27.41 L483.16,27.46 L483.63,27.54 L484.10,27.64 L484.57,27.80 L485.04,28.01 L485.50,28.29 L485.97,28.67 L486.44,29.17 L486.91,29.83 L487.38,30.67 L487.85,31.74 L488.32,33.07 L488.78,34.71 L489.25,36.71 L489.72,39.11 L490.19,41.93 L490.66,45.20 L491.13,48.95 L491.60,53.16 L492.06,57.82 L492.53,62.88 L493.00,68.28 L493.47,73.93 L493.94,79.71 L494.41,80.36 L494.88,74.57 L495.35,68.90 L495.81,63.47 L496.28,58.36 L496.75,53.66 L497.22,49.39 L497.69,45.60 L498.16,42.27 L498.63,39.40 L499.09,36.96 L499.56,34.92 L500.03,33.24 L500.50,31.87 L500.97,30.77 L501.44,29.91 L501.91,29.24 L502.38,28.72 L502.84,28.33 L503.31,28.03 L503.78,27.82 L504.25,27.66 L504.72,27.55 L505.19,27.47 L505.66,27.41 L506.12,27.37 L506.59,27.35 L507.06,27.33 L507.53,27.32 L508.00,27.31 L508.47,27.30 L508.94,27.30 L509.40,27.30 L509.87,27.30 L510.34,27.30 L510.81,27.31 L511.28,27.31 L511.75,27.32 L512.22,27.33 L512.69,27.35 L513.15,27.38 L513.62,27.43 L514.09,27.49 L514.56,27.58 L515.03,27.71 L515.50,27.89 L515.97,28.13 L516.43,28.46 L516.90,28.90 L517.37,29.47 L517.84,30.21 L518.31,31.16 L518.78,32.35 L519.25,33.84 L519.71,35.65 L520.18,37.84 L520.65,40.43 L521.12,43.48 L521.59,46.98 L522.06,50.96 L522.53,55.39 L523.00,60.25 L523.46,65.49 L523.93,71.03 L524.40,76.76 L524.87,82.56 L525.34,77.51 L525.81,71.76 L526.28,66.20 L526.74,60.92 L527.21,56.00 L527.68,51.51 L528.15,47.47 L528.62,43.91 L529.09,40.80 L529.56,38.15 L530.02,35.91 L530.49,34.05 L530.96,32.53 L531.43,31.30 L531.90,30.32 L532.37,29.56 L532.84,28.96 L533.31,28.51 L533.77,28.17 L534.24,27.92 L534.71,27.73 L535.18,27.60 L535.65,27.50 L536.12,27.44 L536.59,27.39 L537.05,27.36 L537.52,27.34 L537.99,27.32 L538.46,27.31 L538.93,27.31 L539.40,27.30 L539.87,27.30 L540.33,27.30 L540.80,27.30 L541.27,27.31 L541.74,27.31 L542.21,27.32 L542.68,27.33 L543.15,27.35 L543.62,27.38 L544.08,27.42 L544.55,27.49 L545.02,27.58 L545.49,27.70 L545.96,27.87 L546.43,28.11 L546.90,28.43 L547.36,28.86 L547.83,29.42 L548.30,30.14 L548.77,31.07 L549.24,32.25 L549.71,33.70 L550.18,35.49 L550.64,37.64 L551.11,40.20 L551.58,43.21 L552.05,46.68 L552.52,50.61 L552.99,55.01 L553.46,59.84 L553.93,65.05 L554.39,70.56 L554.86,76.28 L555.33,82.09 L555.80,77.99 L556.27,72.23 L556.74,66.65 L557.21,61.34 L557.67,56.39 L558.14,51.86 L558.61,47.79 L559.08,44.18 L559.55,41.04 L560.02,38.35 L560.49,36.08 L560.95,34.19 L561.42,32.64 L561.89,31.39 L562.36,30.40 L562.83,29.61 L563.30,29.01 L563.77,28.54 L564.24,28.20 L564.70,27.94 L565.17,27.75 L565.64,27.61 L566.11,27.51 L566.58,27.44 L567.05,27.39 L567.52,27.36 L567.98,27.34 L568.45,27.32 L568.92,27.31 L569.39,27.31 L569.86,27.30 L570.33,27.30 L570.80,27.30 L571.26,27.30 L571.73,27.30 L572.20,27.31 L572.67,27.32 L573.14,27.33 L573.61,27.35 L574.08,27.38 L574.55,27.42 L575.01,27.48 L575.48,27.57 L575.95,27.69 L576.42,27.86 L576.89,28.09 L577.36,28.40 L577.83,28.82 L578.29,29.37 L578.76,30.08 L579.23,30.99 L579.70,32.14" stroke="#2a4d2e" stroke-width="1.25"/></g><g clip-path="url(#cd2)" fill="none"><path d="M579.70,28.78 L580.17,28.43 L580.64,28.14 L581.11,27.91 L581.57,27.74 L582.04,27.60 L582.51,27.50 L582.98,27.42 L583.45,27.38 L583.92,27.35 L584.39,27.35 L584.86,27.37 L585.32,27.41 L585.79,27.48 L586.26,27.58 L586.73,27.70 L587.20,27.87 L587.67,28.09 L588.14,28.36 L588.60,28.70 L589.07,29.13 L589.54,29.64 L590.01,30.27 L590.48,31.03 L590.95,31.93 L591.42,33.00 L591.88,34.26 L592.35,35.72 L592.82,37.40 L593.29,39.33 L593.76,41.52 L594.23,43.98 L594.70,46.71 L595.17,49.73 L595.63,53.03 L596.10,56.60 L596.57,60.42 L597.04,64.47 L597.51,68.71 L597.98,73.11 L598.45,77.60 L598.91,82.15 L599.38,81.21 L599.85,76.67 L600.32,72.19 L600.79,67.82 L601.26,63.62 L601.73,59.61 L602.19,55.84 L602.66,52.33 L603.13,49.09 L603.60,46.13 L604.07,43.45 L604.54,41.05 L605.01,38.91 L605.48,37.04 L605.94,35.40 L606.41,33.98 L606.88,32.76 L607.35,31.73 L607.82,30.86 L608.29,30.13 L608.76,29.53 L609.22,29.03 L609.69,28.62 L610.16,28.30 L610.63,28.04 L611.10,27.83 L611.57,27.67 L612.04,27.54 L612.50,27.45 L612.97,27.38 L613.44,27.34 L613.91,27.32 L614.38,27.31 L614.85,27.33 L615.32,27.36 L615.79,27.42 L616.25,27.50 L616.72,27.61 L617.19,27.75 L617.66,27.94 L618.13,28.17 L618.60,28.47 L619.07,28.84 L619.53,29.29 L620.00,29.85 L620.47,30.52 L620.94,31.32 L621.41,32.28 L621.88,33.41 L622.35,34.73 L622.81,36.27 L623.28,38.04 L623.75,40.06 L624.22,42.33 L624.69,44.89 L625.16,47.72 L625.63,50.84 L626.10,54.23 L626.56,57.89 L627.03,61.79 L627.50,65.91 L627.97,70.21 L628.44,74.65 L628.91,79.17 L629.38,83.71 L629.84,79.64 L630.31,75.12 L630.78,70.67 L631.25,66.35 L631.72,62.21 L632.19,58.29 L632.66,54.60 L633.12,51.18 L633.59,48.04 L634.06,45.17 L634.53,42.59 L635.00,40.28 L635.47,38.24 L635.94,36.44 L636.41,34.88 L636.87,33.54 L637.34,32.39 L637.81,31.41 L638.28,30.59 L638.75,29.91 L639.22,29.34 L639.69,28.88 L640.15,28.50 L640.62,28.20 L641.09,27.96 L641.56,27.77 L642.03,27.62 L642.50,27.50 L642.97,27.42 L643.43,27.36 L643.90,27.32 L644.37,27.30 L644.84,27.30 L645.31,27.32 L645.78,27.35 L646.25,27.41 L646.72,27.49 L647.18,27.59 L647.65,27.74 L648.12,27.92 L648.59,28.15 L649.06,28.44 L649.53,28.80 L650.00,29.25 L650.46,29.80 L650.93,30.46 L651.40,31.25 L651.87,32.19 L652.34,33.31 L652.81,34.62 L653.28,36.14 L653.74,37.88 L654.21,39.88 L654.68,42.14 L655.15,44.67 L655.62,47.48 L656.09,50.57 L656.56,53.94 L657.03,57.58 L657.49,61.46 L657.96,65.56 L658.43,69.85 L658.90,74.28 L659.37,78.79 L659.84,83.34 L660.31,80.02 L660.77,75.49 L661.24,71.03 L661.71,66.70 L662.18,62.55 L662.65,58.60 L663.12,54.90 L663.59,51.45 L664.05,48.28 L664.52,45.40 L664.99,42.79 L665.46,40.46 L665.93,38.40 L666.40,36.58 L666.87,35.01 L667.34,33.64 L667.80,32.48 L668.27,31.49 L668.74,30.66 L669.21,29.96 L669.68,29.39 L670.15,28.92 L670.62,28.53 L671.08,28.22 L671.55,27.98 L672.02,27.78 L672.49,27.63 L672.96,27.51 L673.43,27.43 L673.90,27.37 L674.36,27.32 L674.83,27.30 L675.30,27.30 L675.77,27.32 L676.24,27.35 L676.71,27.40 L677.18,27.48 L677.64,27.58 L678.11,27.72 L678.58,27.90 L679.05,28.13 L679.52,28.42 L679.99,28.77 L680.46,29.21 L680.93,29.75 L681.39,30.40 L681.86,31.18 L682.33,32.11 L682.80,33.21" stroke="#b4f3bc" stroke-width="1.35"/><path d="M579.70,28.07 L580.17,27.86 L580.64,27.69 L581.11,27.57 L581.57,27.48 L582.04,27.41 L582.51,27.37 L582.98,27.35 L583.45,27.34 L583.92,27.36 L584.39,27.39 L584.86,27.45 L585.32,27.52 L585.79,27.63 L586.26,27.78 L586.73,27.96 L587.20,28.19 L587.67,28.49 L588.14,28.86 L588.60,29.31 L589.07,29.87 L589.54,30.54 L590.01,31.35 L590.48,32.31 L590.95,33.45 L591.42,34.78 L591.88,36.33 L592.35,38.12 L592.82,40.15 L593.29,42.46 L593.76,45.03 L594.23,47.90 L594.70,51.04 L595.17,54.46 L595.63,58.14 L596.10,62.06 L596.57,66.20 L597.04,70.51 L597.51,74.94 L597.98,79.45 L598.45,82.10 L598.91,77.49 L599.38,72.91 L599.85,68.43 L600.32,64.11 L600.79,59.99 L601.26,56.11 L601.73,52.49 L602.19,49.16 L602.66,46.12 L603.13,43.37 L603.60,40.92 L604.07,38.75 L604.54,36.85 L605.01,35.20 L605.48,33.78 L605.94,32.56 L606.41,31.54 L606.88,30.68 L607.35,29.97 L607.82,29.39 L608.29,28.91 L608.76,28.52 L609.22,28.22 L609.69,27.97 L610.16,27.78 L610.63,27.63 L611.10,27.52 L611.57,27.44 L612.04,27.38 L612.50,27.34 L612.97,27.32 L613.44,27.31 L613.91,27.32 L614.38,27.35 L614.85,27.39 L615.32,27.46 L615.79,27.55 L616.25,27.67 L616.72,27.83 L617.19,28.03 L617.66,28.29 L618.13,28.61 L618.60,29.00 L619.07,29.49 L619.53,30.08 L620.00,30.80 L620.47,31.66 L620.94,32.68 L621.41,33.89 L621.88,35.29 L622.35,36.92 L622.81,38.79 L623.28,40.92 L623.75,43.31 L624.22,45.99 L624.69,48.95 L625.16,52.19 L625.63,55.70 L626.10,59.47 L626.56,63.47 L627.03,67.67 L627.50,72.02 L627.97,76.49 L628.44,81.00 L628.91,80.51 L629.38,75.90 L629.84,71.35 L630.31,66.92 L630.78,62.67 L631.25,58.62 L631.72,54.83 L632.19,51.31 L632.66,48.08 L633.12,45.14 L633.59,42.50 L634.06,40.14 L634.53,38.07 L635.00,36.25 L635.47,34.68 L635.94,33.34 L636.41,32.19 L636.87,31.23 L637.34,30.42 L637.81,29.76 L638.28,29.21 L638.75,28.77 L639.22,28.41 L639.69,28.12 L640.15,27.90 L640.62,27.72 L641.09,27.59 L641.56,27.48 L642.03,27.41 L642.50,27.36 L642.97,27.32 L643.43,27.30 L643.90,27.30 L644.37,27.31 L644.84,27.34 L645.31,27.39 L645.78,27.45 L646.25,27.54 L646.72,27.66 L647.18,27.82 L647.65,28.01 L648.12,28.26 L648.59,28.58 L649.06,28.97 L649.53,29.45 L650.00,30.03 L650.46,30.74 L650.93,31.58 L651.40,32.59 L651.87,33.78 L652.34,35.17 L652.81,36.78 L653.28,38.63 L653.74,40.73 L654.21,43.10 L654.68,45.76 L655.15,48.69 L655.62,51.91 L656.09,55.40 L656.56,59.15 L657.03,63.13 L657.49,67.31 L657.96,71.66 L658.43,76.12 L658.90,80.63 L659.37,80.89 L659.84,76.28 L660.31,71.72 L660.77,67.28 L661.24,63.01 L661.71,58.95 L662.18,55.13 L662.65,51.59 L663.12,48.33 L663.59,45.37 L664.05,42.70 L664.52,40.33 L664.99,38.23 L665.46,36.39 L665.93,34.80 L666.40,33.44 L666.87,32.28 L667.34,31.30 L667.80,30.48 L668.27,29.81 L668.74,29.25 L669.21,28.80 L669.68,28.44 L670.15,28.15 L670.62,27.92 L671.08,27.74 L671.55,27.60 L672.02,27.49 L672.49,27.41 L672.96,27.36 L673.43,27.32 L673.90,27.30 L674.36,27.30 L674.83,27.31 L675.30,27.34 L675.77,27.38 L676.24,27.45 L676.71,27.53 L677.18,27.65 L677.64,27.80 L678.11,28.00 L678.58,28.24 L679.05,28.55 L679.52,28.93 L679.99,29.40 L680.46,29.98 L680.93,30.67 L681.39,31.51 L681.86,32.50 L682.33,33.67 L682.80,35.05" stroke="#92eba0" stroke-width="1.35"/><path d="M579.70,27.65 L580.17,27.53 L580.64,27.45 L581.11,27.39 L581.57,27.36 L582.04,27.34 L582.51,27.33 L582.98,27.34 L583.45,27.37 L583.92,27.42 L584.39,27.48 L584.86,27.57 L585.32,27.69 L585.79,27.85 L586.26,28.05 L586.73,28.30 L587.20,28.62 L587.67,29.01 L588.14,29.50 L588.60,30.10 L589.07,30.82 L589.54,31.68 L590.01,32.71 L590.48,33.92 L590.95,35.34 L591.42,36.98 L591.88,38.87 L592.35,41.02 L592.82,43.44 L593.29,46.14 L593.76,49.12 L594.23,52.39 L594.70,55.93 L595.17,59.72 L595.63,63.74 L596.10,67.95 L596.57,72.31 L597.04,76.77 L597.51,81.26 L597.98,78.36 L598.45,73.68 L598.91,69.09 L599.38,64.65 L599.85,60.40 L600.32,56.40 L600.79,52.67 L601.26,49.24 L601.73,46.12 L602.19,43.30 L602.66,40.79 L603.13,38.58 L603.60,36.65 L604.07,34.99 L604.54,33.56 L605.01,32.35 L605.48,31.34 L605.94,30.50 L606.41,29.81 L606.88,29.24 L607.35,28.79 L607.82,28.42 L608.29,28.13 L608.76,27.90 L609.22,27.73 L609.69,27.59 L610.16,27.49 L610.63,27.42 L611.10,27.36 L611.57,27.33 L612.04,27.31 L612.50,27.31 L612.97,27.31 L613.44,27.34 L613.91,27.37 L614.38,27.43 L614.85,27.50 L615.32,27.61 L615.79,27.74 L616.25,27.91 L616.72,28.13 L617.19,28.40 L617.66,28.75 L618.13,29.17 L618.60,29.69 L619.07,30.33 L619.53,31.10 L620.00,32.02 L620.47,33.11 L620.94,34.39 L621.41,35.88 L621.88,37.61 L622.35,39.58 L622.81,41.82 L623.28,44.34 L623.75,47.13 L624.22,50.22 L624.69,53.58 L625.16,57.21 L625.63,61.08 L626.10,65.17 L626.56,69.44 L627.03,73.84 L627.50,78.31 L627.97,81.44 L628.44,76.75 L628.91,72.09 L629.38,67.54 L629.84,63.16 L630.31,59.00 L630.78,55.09 L631.25,51.46 L631.72,48.13 L632.19,45.11 L632.66,42.40 L633.12,40.00 L633.59,37.89 L634.06,36.05 L634.53,34.47 L635.00,33.12 L635.47,31.98 L635.94,31.03 L636.41,30.25 L636.87,29.60 L637.34,29.07 L637.81,28.65 L638.28,28.31 L638.75,28.05 L639.22,27.84 L639.69,27.68 L640.15,27.55 L640.62,27.46 L641.09,27.39 L641.56,27.35 L642.03,27.32 L642.50,27.30 L642.97,27.30 L643.43,27.31 L643.90,27.33 L644.37,27.37 L644.84,27.42 L645.31,27.50 L645.78,27.60 L646.25,27.73 L646.72,27.89 L647.18,28.11 L647.65,28.38 L648.12,28.71 L648.59,29.13 L649.06,29.65 L649.53,30.27 L650.00,31.03 L650.46,31.93 L650.93,33.01 L651.40,34.27 L651.87,35.75 L652.34,37.45 L652.81,39.41 L653.28,41.63 L653.74,44.12 L654.21,46.89 L654.68,49.95 L655.15,53.29 L655.62,56.90 L656.09,60.75 L656.56,64.83 L657.03,69.08 L657.49,73.47 L657.96,77.94 L658.43,81.83 L658.90,77.13 L659.37,72.47 L659.84,67.91 L660.31,63.52 L660.77,59.33 L661.24,55.40 L661.71,51.75 L662.18,48.39 L662.65,45.35 L663.12,42.61 L663.59,40.19 L664.05,38.05 L664.52,36.19 L664.99,34.59 L665.46,33.23 L665.93,32.07 L666.40,31.11 L666.87,30.30 L667.34,29.65 L667.80,29.11 L668.27,28.68 L668.74,28.34 L669.21,28.07 L669.68,27.85 L670.15,27.69 L670.62,27.56 L671.08,27.47 L671.55,27.40 L672.02,27.35 L672.49,27.32 L672.96,27.30 L673.43,27.30 L673.90,27.31 L674.36,27.33 L674.83,27.36 L675.30,27.42 L675.77,27.49 L676.24,27.59 L676.71,27.71 L677.18,27.88 L677.64,28.09 L678.11,28.35 L678.58,28.68 L679.05,29.09 L679.52,29.60 L679.99,30.22 L680.46,30.96 L680.93,31.85 L681.39,32.91 L681.86,34.16 L682.33,35.62 L682.80,37.30" stroke="#74e184" stroke-width="1.35"/><path d="M579.70,27.43 L580.17,27.38 L580.64,27.34 L581.11,27.33 L581.57,27.32 L582.04,27.33 L582.51,27.35 L582.98,27.39 L583.45,27.44 L583.92,27.52 L584.39,27.62 L584.86,27.75 L585.32,27.92 L585.79,28.14 L586.26,28.41 L586.73,28.75 L587.20,29.18 L587.67,29.70 L588.14,30.34 L588.60,31.11 L589.07,32.03 L589.54,33.13 L590.01,34.42 L590.48,35.93 L590.95,37.67 L591.42,39.66 L591.88,41.93 L592.35,44.47 L592.82,47.29 L593.29,50.40 L593.76,53.79 L594.23,57.45 L594.70,61.34 L595.17,65.45 L595.63,69.72 L596.10,74.12 L596.57,78.57 L597.04,79.30 L597.51,74.52 L597.98,69.82 L598.45,65.24 L598.91,60.86 L599.38,56.73 L599.85,52.88 L600.32,49.34 L600.79,46.12 L601.26,43.23 L601.73,40.66 L602.19,38.41 L602.66,36.45 L603.13,34.77 L603.60,33.34 L604.07,32.14 L604.54,31.14 L605.01,30.31 L605.48,29.64 L605.94,29.09 L606.41,28.66 L606.88,28.31 L607.35,28.04 L607.82,27.84 L608.29,27.68 L608.76,27.55 L609.22,27.46 L609.69,27.40 L610.16,27.35 L610.63,27.32 L611.10,27.31 L611.57,27.30 L612.04,27.31 L612.50,27.33 L612.97,27.36 L613.44,27.40 L613.91,27.46 L614.38,27.55 L614.85,27.66 L615.32,27.80 L615.79,27.99 L616.25,28.22 L616.72,28.52 L617.19,28.89 L617.66,29.34 L618.13,29.90 L618.60,30.59 L619.07,31.41 L619.53,32.39 L620.00,33.55 L620.47,34.91 L620.94,36.50 L621.41,38.33 L621.88,40.41 L622.35,42.77 L622.81,45.41 L623.28,48.33 L623.75,51.54 L624.22,55.02 L624.69,58.76 L625.16,62.73 L625.63,66.90 L626.10,71.22 L626.56,75.65 L627.03,80.11 L627.50,77.65 L627.97,72.89 L628.44,68.22 L628.91,63.71 L629.38,59.41 L629.84,55.37 L630.31,51.63 L630.78,48.20 L631.25,45.09 L631.72,42.31 L632.19,39.85 L632.66,37.70 L633.12,35.84 L633.59,34.25 L634.06,32.90 L634.53,31.77 L635.00,30.83 L635.47,30.06 L635.94,29.44 L636.41,28.93 L636.87,28.53 L637.34,28.21 L637.81,27.97 L638.28,27.78 L638.75,27.63 L639.22,27.52 L639.69,27.44 L640.15,27.38 L640.62,27.34 L641.09,27.31 L641.56,27.30 L642.03,27.30 L642.50,27.30 L642.97,27.32 L643.43,27.35 L643.90,27.40 L644.37,27.46 L644.84,27.54 L645.31,27.65 L645.78,27.79 L646.25,27.97 L646.72,28.20 L647.18,28.49 L647.65,28.85 L648.12,29.30 L648.59,29.85 L649.06,30.52 L649.53,31.33 L650.00,32.30 L650.46,33.45 L650.93,34.79 L651.40,36.36 L651.87,38.17 L652.34,40.23 L652.81,42.56 L653.28,45.18 L653.74,48.08 L654.21,51.26 L654.68,54.73 L655.15,58.45 L655.62,62.40 L656.09,66.55 L656.56,70.86 L657.03,75.28 L657.49,79.74 L657.96,78.05 L658.43,73.28 L658.90,68.60 L659.37,64.07 L659.84,59.76 L660.31,55.70 L660.77,51.92 L661.24,48.47 L661.71,45.33 L662.18,42.53 L662.65,40.04 L663.12,37.87 L663.59,35.99 L664.05,34.37 L664.52,33.00 L664.99,31.86 L665.46,30.90 L665.93,30.12 L666.40,29.48 L666.87,28.97 L667.34,28.56 L667.80,28.24 L668.27,27.98 L668.74,27.79 L669.21,27.64 L669.68,27.53 L670.15,27.44 L670.62,27.38 L671.08,27.34 L671.55,27.31 L672.02,27.30 L672.49,27.30 L672.96,27.30 L673.43,27.32 L673.90,27.35 L674.36,27.39 L674.83,27.45 L675.30,27.53 L675.77,27.64 L676.24,27.78 L676.71,27.95 L677.18,28.18 L677.64,28.46 L678.11,28.82 L678.58,29.26 L679.05,29.80 L679.52,30.46 L679.99,31.26 L680.46,32.22 L680.93,33.35 L681.39,34.68 L681.86,36.22 L682.33,38.01 L682.80,40.05" stroke="#58d46b" stroke-width="1.35"/><path d="M579.70,27.33 L580.17,27.32 L580.64,27.31 L581.11,27.32 L581.57,27.34 L582.04,27.37 L582.51,27.41 L582.98,27.47 L583.45,27.56 L583.92,27.67 L584.39,27.81 L584.86,27.99 L585.32,28.22 L585.79,28.52 L586.26,28.89 L586.73,29.34 L587.20,29.91 L587.67,30.59 L588.14,31.41 L588.60,32.40 L589.07,33.57 L589.54,34.95 L590.01,36.55 L590.48,38.39 L590.95,40.50 L591.42,42.88 L591.88,45.54 L592.35,48.50 L592.82,51.73 L593.29,55.24 L593.76,59.01 L594.23,63.00 L594.70,67.18 L595.17,71.50 L595.63,75.91 L596.10,80.30 L596.57,75.43 L597.04,70.60 L597.51,65.89 L597.98,61.37 L598.45,57.10 L598.91,53.12 L599.38,49.46 L599.85,46.14 L600.32,43.16 L600.79,40.53 L601.26,38.23 L601.73,36.24 L602.19,34.54 L602.66,33.11 L603.13,31.91 L603.60,30.92 L604.07,30.12 L604.54,29.47 L605.01,28.94 L605.48,28.53 L605.94,28.21 L606.41,27.96 L606.88,27.77 L607.35,27.62 L607.82,27.52 L608.29,27.44 L608.76,27.38 L609.22,27.34 L609.69,27.32 L610.16,27.30 L610.63,27.30 L611.10,27.30 L611.57,27.32 L612.04,27.34 L612.50,27.38 L612.97,27.43 L613.44,27.50 L613.91,27.59 L614.38,27.71 L614.85,27.87 L615.32,28.06 L615.79,28.32 L616.25,28.64 L616.72,29.03 L617.19,29.52 L617.66,30.13 L618.13,30.86 L618.60,31.74 L619.07,32.78 L619.53,34.02 L620.00,35.47 L620.47,37.16 L620.94,39.09 L621.41,41.29 L621.88,43.77 L622.35,46.53 L622.81,49.58 L623.28,52.91 L623.75,56.51 L624.22,60.36 L624.69,64.42 L625.16,68.65 L625.63,73.01 L626.10,77.44 L626.56,78.62 L627.03,73.76 L627.50,68.96 L627.97,64.31 L628.44,59.87 L628.91,55.70 L629.38,51.82 L629.84,48.28 L630.31,45.08 L630.78,42.22 L631.25,39.70 L631.72,37.51 L632.19,35.63 L632.66,34.02 L633.12,32.67 L633.59,31.55 L634.06,30.63 L634.53,29.88 L635.00,29.27 L635.47,28.79 L635.94,28.41 L636.41,28.12 L636.87,27.89 L637.34,27.71 L637.81,27.58 L638.28,27.49 L638.75,27.41 L639.22,27.36 L639.69,27.33 L640.15,27.31 L640.62,27.30 L641.09,27.30 L641.56,27.30 L642.03,27.31 L642.50,27.34 L642.97,27.37 L643.43,27.42 L643.90,27.49 L644.37,27.58 L644.84,27.70 L645.31,27.85 L645.78,28.05 L646.25,28.29 L646.72,28.61 L647.18,29.00 L647.65,29.48 L648.12,30.07 L648.59,30.79 L649.06,31.66 L649.53,32.69 L650.00,33.91 L650.46,35.35 L650.93,37.01 L651.40,38.92 L651.87,41.10 L652.34,43.55 L652.81,46.29 L653.28,49.32 L653.74,52.63 L654.21,56.20 L654.68,60.03 L655.15,64.08 L655.62,68.30 L656.09,72.65 L656.56,77.07 L657.03,79.02 L657.49,74.16 L657.96,69.35 L658.43,64.69 L658.90,60.23 L659.37,56.03 L659.84,52.13 L660.31,48.56 L660.77,45.33 L661.24,42.44 L661.71,39.90 L662.18,37.68 L662.65,35.77 L663.12,34.14 L663.59,32.78 L664.05,31.64 L664.52,30.70 L664.99,29.93 L665.46,29.32 L665.93,28.83 L666.40,28.44 L666.87,28.14 L667.34,27.90 L667.80,27.73 L668.27,27.59 L668.74,27.49 L669.21,27.42 L669.68,27.37 L670.15,27.33 L670.62,27.31 L671.08,27.30 L671.55,27.30 L672.02,27.30 L672.49,27.31 L672.96,27.33 L673.43,27.37 L673.90,27.42 L674.36,27.48 L674.83,27.57 L675.30,27.69 L675.77,27.84 L676.24,28.03 L676.71,28.27 L677.18,28.58 L677.64,28.96 L678.11,29.44 L678.58,30.02 L679.05,30.73 L679.52,31.58 L679.99,32.60 L680.46,33.80 L680.93,35.22 L681.39,36.86 L681.86,38.75 L682.33,40.91 L682.80,43.34" stroke="#42b655" stroke-width="1.35"/><path d="M579.70,27.31 L580.17,27.31 L580.64,27.33 L581.11,27.35 L581.57,27.39 L582.04,27.44 L582.51,27.51 L582.98,27.60 L583.45,27.72 L583.92,27.87 L584.39,28.07 L584.86,28.32 L585.32,28.64 L585.79,29.03 L586.26,29.52 L586.73,30.13 L587.20,30.86 L587.67,31.74 L588.14,32.80 L588.60,34.05 L589.07,35.51 L589.54,37.21 L590.01,39.16 L590.48,41.38 L590.95,43.89 L591.42,46.68 L591.88,49.75 L592.35,53.11 L592.82,56.74 L593.29,60.61 L593.76,64.68 L594.23,68.92 L594.70,73.27 L595.17,77.68 L595.63,76.41 L596.10,71.46 L596.57,66.61 L597.04,61.94 L597.51,57.52 L597.98,53.39 L598.45,49.61 L598.91,46.17 L599.38,43.11 L599.85,40.40 L600.32,38.05 L600.79,36.03 L601.26,34.31 L601.73,32.88 L602.19,31.69 L602.66,30.71 L603.13,29.92 L603.60,29.30 L604.07,28.80 L604.54,28.41 L605.01,28.11 L605.48,27.88 L605.94,27.71 L606.41,27.58 L606.88,27.48 L607.35,27.41 L607.82,27.37 L608.29,27.33 L608.76,27.31 L609.22,27.30 L609.69,27.30 L610.16,27.30 L610.63,27.31 L611.10,27.33 L611.57,27.36 L612.04,27.40 L612.50,27.46 L612.97,27.53 L613.44,27.63 L613.91,27.76 L614.38,27.93 L614.85,28.15 L615.32,28.42 L615.79,28.76 L616.25,29.19 L616.72,29.72 L617.19,30.36 L617.66,31.15 L618.13,32.09 L618.60,33.21 L619.07,34.53 L619.53,36.07 L620.00,37.85 L620.47,39.90 L620.94,42.21 L621.41,44.81 L621.88,47.70 L622.35,50.88 L622.81,54.33 L623.28,58.05 L623.75,61.99 L624.22,66.12 L624.69,70.41 L625.16,74.79 L625.63,79.19 L626.10,74.70 L626.56,69.78 L627.03,64.98 L627.50,60.39 L627.97,56.06 L628.44,52.05 L628.91,48.38 L629.38,45.08 L629.84,42.13 L630.31,39.55 L630.78,37.32 L631.25,35.41 L631.72,33.79 L632.19,32.44 L632.66,31.33 L633.12,30.42 L633.59,29.69 L634.06,29.11 L634.53,28.65 L635.00,28.30 L635.47,28.02 L635.94,27.81 L636.41,27.66 L636.87,27.54 L637.34,27.46 L637.81,27.40 L638.28,27.35 L638.75,27.32 L639.22,27.30 L639.69,27.30 L640.15,27.30 L640.62,27.30 L641.09,27.31 L641.56,27.33 L642.03,27.36 L642.50,27.40 L642.97,27.45 L643.43,27.53 L643.90,27.62 L644.37,27.75 L644.84,27.92 L645.31,28.13 L645.78,28.39 L646.25,28.73 L646.72,29.15 L647.18,29.67 L647.65,30.31 L648.12,31.08 L648.59,32.00 L649.06,33.11 L649.53,34.41 L650.00,35.93 L650.46,37.70 L650.93,39.72 L651.40,42.01 L651.87,44.59 L652.34,47.45 L652.81,50.61 L653.28,54.04 L653.74,57.73 L654.21,61.65 L654.68,65.78 L655.15,70.05 L655.62,74.42 L656.09,78.83 L656.56,75.11 L657.03,70.18 L657.49,65.37 L657.96,60.76 L658.43,56.41 L658.90,52.37 L659.37,48.67 L659.84,45.33 L660.31,42.36 L660.77,39.75 L661.24,37.49 L661.71,35.55 L662.18,33.91 L662.65,32.54 L663.12,31.41 L663.59,30.49 L664.05,29.75 L664.52,29.15 L664.99,28.69 L665.46,28.32 L665.93,28.04 L666.40,27.83 L666.87,27.67 L667.34,27.55 L667.80,27.46 L668.27,27.40 L668.74,27.36 L669.21,27.32 L669.68,27.31 L670.15,27.30 L670.62,27.30 L671.08,27.30 L671.55,27.31 L672.02,27.33 L672.49,27.35 L672.96,27.39 L673.43,27.45 L673.90,27.52 L674.36,27.62 L674.83,27.74 L675.30,27.90 L675.77,28.11 L676.24,28.37 L676.71,28.70 L677.18,29.11 L677.64,29.62 L678.11,30.25 L678.58,31.01 L679.05,31.92 L679.52,33.01 L679.99,34.29 L680.46,35.80 L680.93,37.54 L681.39,39.54 L681.86,41.81 L682.33,44.37 L682.80,47.21" stroke="#2f873d" stroke-width="1.35"/><path d="M579.70,27.33 L580.17,27.34 L580.64,27.37 L581.11,27.41 L581.57,27.47 L582.04,27.54 L582.51,27.64 L582.98,27.77 L583.45,27.94 L583.92,28.15 L584.39,28.42 L584.86,28.76 L585.32,29.19 L585.79,29.72 L586.26,30.36 L586.73,31.15 L587.20,32.10 L587.67,33.22 L588.14,34.56 L588.60,36.11 L589.07,37.91 L589.54,39.98 L590.01,42.32 L590.48,44.95 L590.95,47.86 L591.42,51.07 L591.88,54.55 L592.35,58.28 L592.82,62.24 L593.29,66.39 L593.76,70.67 L594.23,75.03 L594.70,77.47 L595.17,72.40 L595.63,67.41 L596.10,62.58 L596.57,57.99 L597.04,53.71 L597.51,49.78 L597.98,46.23 L598.45,43.06 L598.91,40.28 L599.38,37.87 L599.85,35.81 L600.32,34.08 L600.79,32.64 L601.26,31.46 L601.73,30.50 L602.19,29.73 L602.66,29.13 L603.13,28.66 L603.60,28.29 L604.07,28.01 L604.54,27.81 L605.01,27.65 L605.48,27.54 L605.94,27.46 L606.41,27.40 L606.88,27.36 L607.35,27.33 L607.82,27.31 L608.29,27.30 L608.76,27.30 L609.22,27.30 L609.69,27.31 L610.16,27.33 L610.63,27.35 L611.10,27.38 L611.57,27.43 L612.04,27.49 L612.50,27.57 L612.97,27.68 L613.44,27.82 L613.91,28.00 L614.38,28.23 L614.85,28.53 L615.32,28.90 L615.79,29.36 L616.25,29.92 L616.72,30.62 L617.19,31.46 L617.66,32.46 L618.13,33.66 L618.60,35.07 L619.07,36.70 L619.53,38.59 L620.00,40.75 L620.47,43.19 L620.94,45.92 L621.41,48.93 L621.88,52.23 L622.35,55.80 L622.81,59.62 L623.28,63.65 L623.75,67.85 L624.22,72.16 L624.69,76.54 L625.16,75.72 L625.63,70.67 L626.10,65.72 L626.56,60.97 L627.03,56.48 L627.50,52.32 L627.97,48.51 L628.44,45.09 L628.91,42.06 L629.38,39.41 L629.84,37.12 L630.31,35.18 L630.78,33.55 L631.25,32.21 L631.72,31.11 L632.19,30.22 L632.66,29.51 L633.12,28.95 L633.59,28.52 L634.06,28.19 L634.53,27.94 L635.00,27.75 L635.47,27.61 L635.94,27.51 L636.41,27.43 L636.87,27.38 L637.34,27.35 L637.81,27.32 L638.28,27.31 L638.75,27.30 L639.22,27.30 L639.69,27.30 L640.15,27.31 L640.62,27.33 L641.09,27.35 L641.56,27.38 L642.03,27.43 L642.50,27.49 L642.97,27.57 L643.43,27.67 L643.90,27.81 L644.37,27.99 L644.84,28.21 L645.31,28.50 L645.78,28.86 L646.25,29.32 L646.72,29.87 L647.18,30.56 L647.65,31.38 L648.12,32.37 L648.59,33.55 L649.06,34.94 L649.53,36.56 L650.00,38.43 L650.46,40.56 L650.93,42.98 L651.40,45.68 L651.87,48.67 L652.34,51.95 L652.81,55.50 L653.28,59.30 L653.74,63.31 L654.21,67.50 L654.68,71.81 L655.15,76.18 L655.62,76.14 L656.09,71.08 L656.56,66.12 L657.03,61.35 L657.49,56.84 L657.96,52.65 L658.43,48.81 L658.90,45.36 L659.37,42.29 L659.84,39.61 L660.31,37.30 L660.77,35.33 L661.24,33.68 L661.71,32.31 L662.18,31.19 L662.65,30.28 L663.12,29.56 L663.59,28.99 L664.05,28.55 L664.52,28.21 L664.99,27.95 L665.46,27.76 L665.93,27.62 L666.40,27.51 L666.87,27.44 L667.34,27.38 L667.80,27.35 L668.27,27.32 L668.74,27.31 L669.21,27.30 L669.68,27.30 L670.15,27.30 L670.62,27.31 L671.08,27.32 L671.55,27.35 L672.02,27.38 L672.49,27.42 L672.96,27.48 L673.43,27.56 L673.90,27.66 L674.36,27.80 L674.83,27.97 L675.30,28.19 L675.77,28.48 L676.24,28.83 L676.71,29.28 L677.18,29.82 L677.64,30.49 L678.11,31.31 L678.58,32.29 L679.05,33.45 L679.52,34.82 L679.99,36.42 L680.46,38.26 L680.93,40.38 L681.39,42.77 L681.86,45.45 L682.33,48.42 L682.80,51.67" stroke="#2a4d2e" stroke-width="1.25"/></g>
<line x1="378.00" y1="94.50" x2="396.00" y2="94.50" stroke="#b4f3bc" stroke-width="1.0" />
<text x="398.30" y="97.40" font-size="8.1" text-anchor="start" fill="#222" font-weight="normal" font-style="normal" textLength="9.8" lengthAdjust="spacingAndGlyphs">O1</text>
<line x1="410.60" y1="94.50" x2="428.60" y2="94.50" stroke="#92eba0" stroke-width="1.0" />
<text x="430.90" y="97.40" font-size="8.1" text-anchor="start" fill="#222" font-weight="normal" font-style="normal" textLength="9.8" lengthAdjust="spacingAndGlyphs">O2</text>
<line x1="443.70" y1="94.50" x2="461.70" y2="94.50" stroke="#74e184" stroke-width="1.0" />
<text x="463.20" y="97.40" font-size="8.1" text-anchor="start" fill="#222" font-weight="normal" font-style="normal" textLength="9.8" lengthAdjust="spacingAndGlyphs">O3</text>
<line x1="378.00" y1="104.20" x2="396.00" y2="104.20" stroke="#58d46b" stroke-width="1.0" />
<text x="398.30" y="107.10" font-size="8.1" text-anchor="start" fill="#222" font-weight="normal" font-style="normal" textLength="9.8" lengthAdjust="spacingAndGlyphs">O4</text>
<line x1="410.60" y1="104.20" x2="428.60" y2="104.20" stroke="#42b655" stroke-width="1.0" />
<text x="430.90" y="107.10" font-size="8.1" text-anchor="start" fill="#222" font-weight="normal" font-style="normal" textLength="9.8" lengthAdjust="spacingAndGlyphs">O5</text>
<line x1="443.70" y1="104.20" x2="461.70" y2="104.20" stroke="#2f873d" stroke-width="1.0" />
<text x="463.20" y="107.10" font-size="8.1" text-anchor="start" fill="#222" font-weight="normal" font-style="normal" textLength="9.8" lengthAdjust="spacingAndGlyphs">O6</text>
<line x1="378.00" y1="113.80" x2="396.00" y2="113.80" stroke="#3d5c40" stroke-width="1.3" />
<text x="398.30" y="116.70" font-size="8.1" text-anchor="start" fill="#222" font-weight="normal" font-style="normal" textLength="9.8" lengthAdjust="spacingAndGlyphs">O7</text>
<text x="368.30" y="132.10" font-size="11.3" text-anchor="end" fill="#1a1a1a" font-weight="normal" font-style="normal" >0.0</text>
<text x="368.30" y="81.70" font-size="11.3" text-anchor="end" fill="#1a1a1a" font-weight="normal" font-style="normal" >0.5</text>
<text x="368.30" y="31.30" font-size="11.3" text-anchor="end" fill="#1a1a1a" font-weight="normal" font-style="normal" >1.0</text>
<text transform="translate(345.2,78.6) rotate(-90)" font-size="15" fill="#1a1a1a"><tspan font-style="italic">n</tspan><tspan font-size="9" dy="4.8" dx="0.8">z</tspan></text>
<defs><clipPath id="ce0"><rect x="373.5" y="128.1" width="103.1" height="111.6"/></clipPath><clipPath id="ce1"><rect x="476.6" y="128.1" width="103.1" height="111.6"/></clipPath><clipPath id="ce2"><rect x="579.7" y="128.1" width="103.1" height="111.6"/></clipPath></defs>
<line x1="386.39" y1="128.10" x2="386.39" y2="239.70" stroke="#666" stroke-width="1.0" stroke-dasharray="3.3,2" />
<line x1="412.16" y1="128.10" x2="412.16" y2="239.70" stroke="#666" stroke-width="1.0" stroke-dasharray="3.3,2" />
<line x1="437.94" y1="128.10" x2="437.94" y2="239.70" stroke="#666" stroke-width="1.0" stroke-dasharray="3.3,2" />
<line x1="463.71" y1="128.10" x2="463.71" y2="239.70" stroke="#666" stroke-width="1.0" stroke-dasharray="3.3,2" />
<line x1="373.50" y1="190.20" x2="476.60" y2="190.20" stroke="#666" stroke-width="1.0" stroke-dasharray="3.3,2" />
<line x1="373.50" y1="140.90" x2="476.60" y2="140.90" stroke="#666" stroke-width="1.0" stroke-dasharray="3.3,2" />
<line x1="373.50" y1="239.70" x2="373.50" y2="237.10" stroke="#222" stroke-width="1.0" />
<line x1="386.39" y1="239.70" x2="386.39" y2="234.90" stroke="#222" stroke-width="1.0" />
<line x1="399.27" y1="239.70" x2="399.27" y2="237.10" stroke="#222" stroke-width="1.0" />
<line x1="412.16" y1="239.70" x2="412.16" y2="234.90" stroke="#222" stroke-width="1.0" />
<line x1="425.05" y1="239.70" x2="425.05" y2="237.10" stroke="#222" stroke-width="1.0" />
<line x1="437.94" y1="239.70" x2="437.94" y2="234.90" stroke="#222" stroke-width="1.0" />
<line x1="450.82" y1="239.70" x2="450.82" y2="237.10" stroke="#222" stroke-width="1.0" />
<line x1="463.71" y1="239.70" x2="463.71" y2="234.90" stroke="#222" stroke-width="1.0" />
<line x1="476.60" y1="239.70" x2="476.60" y2="237.10" stroke="#222" stroke-width="1.0" />
<line x1="373.50" y1="239.50" x2="378.00" y2="239.50" stroke="#222" stroke-width="1.0" />
<line x1="373.50" y1="190.20" x2="378.00" y2="190.20" stroke="#222" stroke-width="1.0" />
<line x1="373.50" y1="140.90" x2="378.00" y2="140.90" stroke="#222" stroke-width="1.0" />
<line x1="373.50" y1="214.85" x2="376.10" y2="214.85" stroke="#222" stroke-width="1.0" />
<line x1="373.50" y1="165.55" x2="376.10" y2="165.55" stroke="#222" stroke-width="1.0" />
<rect x="373.50" y="128.10" width="103.10" height="111.60" fill="none" stroke="#222" stroke-width="1.05"/>
<g clip-path="url(#ce0)"><path d="M373.50,141.13 L373.97,141.00 L374.44,140.95 L374.91,140.98 L375.37,141.09 L375.84,141.28 L376.31,141.55 L376.78,141.90 L377.25,142.34 L377.72,142.86 L378.19,143.48 L378.65,144.20 L379.12,145.02 L379.59,145.96 L380.06,147.01 L380.53,148.21 L381.00,149.54 L381.47,151.01 L381.94,152.65 L382.40,154.45 L382.87,156.42 L383.34,158.57 L383.81,160.90 L384.28,163.41 L384.75,166.11 L385.22,168.97 L385.68,172.01 L386.15,175.19 L386.62,178.51 L387.09,181.94 L387.56,185.44 L388.03,188.96 L388.50,192.46 L388.96,195.87 L389.43,199.11 L389.90,202.06 L390.37,204.59 L390.84,206.45 L391.31,206.46 L391.78,204.06 L392.25,200.73 L392.71,196.87 L393.18,192.69 L393.65,188.36 L394.12,184.01 L394.59,179.73 L395.06,175.60 L395.53,171.66 L395.99,167.97 L396.46,164.53 L396.93,161.37 L397.40,158.49 L397.87,155.88 L398.34,153.54 L398.81,151.47 L399.27,149.63 L399.74,148.03 L400.21,146.63 L400.68,145.43 L401.15,144.40 L401.62,143.54 L402.09,142.82 L402.56,142.24 L403.02,141.77 L403.49,141.41 L403.96,141.15 L404.43,140.98 L404.90,140.90 L405.37,140.91 L405.84,140.99 L406.30,141.14 L406.77,141.38 L407.24,141.69 L407.71,142.09 L408.18,142.57 L408.65,143.14 L409.12,143.81 L409.58,144.58 L410.05,145.46 L410.52,146.45 L410.99,147.58 L411.46,148.84 L411.93,150.24 L412.40,151.80 L412.87,153.51 L413.33,155.40 L413.80,157.45 L414.27,159.69 L414.74,162.11 L415.21,164.71 L415.68,167.49 L416.15,170.44 L416.61,173.55 L417.08,176.81 L417.55,180.18 L418.02,183.65 L418.49,187.17 L418.96,190.69 L419.43,194.15 L419.89,197.49 L420.36,200.60 L420.83,203.37 L421.30,205.61 L421.77,206.94 L422.24,205.44 L422.71,202.52 L423.18,198.89 L423.64,194.84 L424.11,190.57 L424.58,186.22 L425.05,181.90 L425.52,177.68 L425.99,173.64 L426.46,169.82 L426.92,166.25 L427.39,162.95 L427.86,159.93 L428.33,157.19 L428.80,154.72 L429.27,152.52 L429.74,150.56 L430.20,148.85 L430.67,147.35 L431.14,146.06 L431.61,144.96 L432.08,144.02 L432.55,143.24 L433.02,142.60 L433.49,142.09 L433.95,141.70 L434.42,141.41 L434.89,141.22 L435.36,141.12 L435.83,141.11 L436.30,141.19 L436.77,141.34 L437.23,141.58 L437.70,141.91 L438.17,142.31 L438.64,142.81 L439.11,143.41 L439.58,144.10 L440.05,144.90 L440.51,145.81 L440.98,146.85 L441.45,148.01 L441.92,149.32 L442.39,150.77 L442.86,152.37 L443.33,154.15 L443.80,156.09 L444.26,158.21 L444.73,160.51 L445.20,162.99 L445.67,165.65 L446.14,168.49 L446.61,171.50 L447.08,174.66 L447.54,177.96 L448.01,181.37 L448.48,184.86 L448.95,188.38 L449.42,191.89 L449.89,195.32 L450.36,198.59 L450.82,201.60 L451.29,204.21 L451.76,206.20 L452.23,206.71 L452.70,204.53 L453.17,201.33 L453.64,197.53 L454.11,193.39 L454.57,189.08 L455.04,184.72 L455.51,180.43 L455.98,176.27 L456.45,172.30 L456.92,168.56 L457.39,165.08 L457.85,161.88 L458.32,158.95 L458.79,156.30 L459.26,153.92 L459.73,151.80 L460.20,149.93 L460.67,148.29 L461.13,146.87 L461.60,145.64 L462.07,144.59 L462.54,143.70 L463.01,142.97 L463.48,142.37 L463.95,141.89 L464.42,141.52 L464.88,141.26 L465.35,141.09 L465.82,141.01 L466.29,141.01 L466.76,141.09 L467.23,141.26 L467.70,141.50 L468.16,141.83 L468.63,142.24 L469.10,142.74 L469.57,143.33 L470.04,144.02 L470.51,144.81 L470.98,145.72 L471.44,146.75 L471.91,147.90 L472.38,149.20 L472.85,150.64 L473.32,152.23 L473.79,153.99 L474.26,155.92 L474.73,158.02 L475.19,160.31 L475.66,162.78 L476.13,165.42 L476.60,168.25" stroke="#3d7fc6" stroke-width="1.1" fill="none"/></g>
<text x="386.39" y="253.60" font-size="11.3" text-anchor="middle" fill="#1a1a1a" font-weight="normal" font-style="normal" >3.92</text>
<text x="412.16" y="253.60" font-size="11.3" text-anchor="middle" fill="#1a1a1a" font-weight="normal" font-style="normal" >3.94</text>
<text x="437.94" y="253.60" font-size="11.3" text-anchor="middle" fill="#1a1a1a" font-weight="normal" font-style="normal" >3.96</text>
<text x="463.71" y="253.60" font-size="11.3" text-anchor="middle" fill="#1a1a1a" font-weight="normal" font-style="normal" >3.98</text>
<text x="425.05" y="266.30" font-size="13.5" text-anchor="middle" fill="#1a1a1a" font-weight="normal" font-style="normal" ><tspan font-style="italic">t</tspan> (ns)</text>
<line x1="489.49" y1="128.10" x2="489.49" y2="239.70" stroke="#666" stroke-width="1.0" stroke-dasharray="3.3,2" />
<line x1="515.26" y1="128.10" x2="515.26" y2="239.70" stroke="#666" stroke-width="1.0" stroke-dasharray="3.3,2" />
<line x1="541.04" y1="128.10" x2="541.04" y2="239.70" stroke="#666" stroke-width="1.0" stroke-dasharray="3.3,2" />
<line x1="566.81" y1="128.10" x2="566.81" y2="239.70" stroke="#666" stroke-width="1.0" stroke-dasharray="3.3,2" />
<line x1="476.60" y1="190.20" x2="579.70" y2="190.20" stroke="#666" stroke-width="1.0" stroke-dasharray="3.3,2" />
<line x1="476.60" y1="140.90" x2="579.70" y2="140.90" stroke="#666" stroke-width="1.0" stroke-dasharray="3.3,2" />
<line x1="476.60" y1="239.70" x2="476.60" y2="237.10" stroke="#222" stroke-width="1.0" />
<line x1="489.49" y1="239.70" x2="489.49" y2="234.90" stroke="#222" stroke-width="1.0" />
<line x1="502.38" y1="239.70" x2="502.38" y2="237.10" stroke="#222" stroke-width="1.0" />
<line x1="515.26" y1="239.70" x2="515.26" y2="234.90" stroke="#222" stroke-width="1.0" />
<line x1="528.15" y1="239.70" x2="528.15" y2="237.10" stroke="#222" stroke-width="1.0" />
<line x1="541.04" y1="239.70" x2="541.04" y2="234.90" stroke="#222" stroke-width="1.0" />
<line x1="553.92" y1="239.70" x2="553.92" y2="237.10" stroke="#222" stroke-width="1.0" />
<line x1="566.81" y1="239.70" x2="566.81" y2="234.90" stroke="#222" stroke-width="1.0" />
<line x1="579.70" y1="239.70" x2="579.70" y2="237.10" stroke="#222" stroke-width="1.0" />
<line x1="476.60" y1="239.50" x2="481.10" y2="239.50" stroke="#222" stroke-width="1.0" />
<line x1="476.60" y1="190.20" x2="481.10" y2="190.20" stroke="#222" stroke-width="1.0" />
<line x1="476.60" y1="140.90" x2="481.10" y2="140.90" stroke="#222" stroke-width="1.0" />
<line x1="476.60" y1="214.85" x2="479.20" y2="214.85" stroke="#222" stroke-width="1.0" />
<line x1="476.60" y1="165.55" x2="479.20" y2="165.55" stroke="#222" stroke-width="1.0" />
<rect x="476.60" y="128.10" width="103.10" height="111.60" fill="none" stroke="#222" stroke-width="1.05"/>
<g clip-path="url(#ce1)"><path d="M476.60,141.13 L477.07,141.03 L477.54,140.96 L478.01,140.92 L478.47,140.91 L478.94,140.94 L479.41,140.99 L479.88,141.08 L480.35,141.21 L480.82,141.38 L481.29,141.60 L481.75,141.90 L482.22,142.27 L482.69,142.73 L483.16,143.31 L483.63,144.03 L484.10,144.91 L484.57,145.97 L485.04,147.27 L485.50,148.82 L485.97,150.67 L486.44,152.86 L486.91,155.42 L487.38,158.41 L487.85,161.85 L488.32,165.77 L488.78,170.20 L489.25,175.15 L489.72,180.61 L490.19,186.54 L490.66,192.87 L491.13,199.50 L491.60,206.29 L492.06,213.02 L492.53,219.39 L493.00,224.99 L493.47,229.14 L493.94,229.07 L494.41,224.88 L494.88,219.25 L495.35,212.87 L495.81,206.14 L496.28,199.35 L496.75,192.72 L497.22,186.40 L497.69,180.48 L498.16,175.04 L498.63,170.10 L499.09,165.68 L499.56,161.76 L500.03,158.34 L500.50,155.36 L500.97,152.80 L501.44,150.62 L501.91,148.78 L502.38,147.24 L502.84,145.95 L503.31,144.88 L503.78,144.01 L504.25,143.30 L504.72,142.72 L505.19,142.26 L505.66,141.89 L506.12,141.60 L506.59,141.37 L507.06,141.20 L507.53,141.07 L508.00,140.98 L508.47,140.93 L508.94,140.90 L509.40,140.91 L509.87,140.94 L510.34,141.01 L510.81,141.10 L511.28,141.25 L511.75,141.43 L512.22,141.68 L512.69,141.99 L513.15,142.39 L513.62,142.88 L514.09,143.50 L514.56,144.25 L515.03,145.18 L515.50,146.31 L515.97,147.67 L516.43,149.30 L516.90,151.24 L517.37,153.53 L517.84,156.21 L518.31,159.31 L518.78,162.89 L519.25,166.95 L519.71,171.53 L520.18,176.62 L520.65,182.21 L521.12,188.25 L521.59,194.68 L522.06,201.38 L522.53,208.17 L523.00,214.84 L523.46,221.04 L523.93,226.33 L524.40,229.85 L524.87,228.12 L525.34,223.43 L525.81,217.54 L526.28,211.02 L526.74,204.25 L527.21,197.49 L527.68,190.93 L528.15,184.71 L528.62,178.92 L529.09,173.62 L529.56,168.82 L530.02,164.54 L530.49,160.77 L530.96,157.47 L531.43,154.61 L531.90,152.16 L532.37,150.08 L532.84,148.33 L533.31,146.85 L533.77,145.63 L534.24,144.62 L534.71,143.80 L535.18,143.13 L535.65,142.59 L536.12,142.15 L536.59,141.81 L537.05,141.54 L537.52,141.33 L537.99,141.18 L538.46,141.07 L538.93,140.99 L539.40,140.96 L539.87,140.95 L540.33,140.98 L540.80,141.04 L541.27,141.14 L541.74,141.28 L542.21,141.47 L542.68,141.72 L543.15,142.04 L543.62,142.45 L544.08,142.96 L544.55,143.59 L545.02,144.37 L545.49,145.32 L545.96,146.47 L546.43,147.87 L546.90,149.54 L547.36,151.52 L547.83,153.86 L548.30,156.59 L548.77,159.75 L549.24,163.39 L549.71,167.52 L550.18,172.16 L550.64,177.32 L551.11,182.97 L551.58,189.08 L552.05,195.55 L552.52,202.27 L552.99,209.06 L553.46,215.68 L553.93,221.80 L554.39,226.92 L554.86,230.07 L555.33,227.60 L555.80,222.71 L556.27,216.71 L556.74,210.15 L557.21,203.36 L557.67,196.62 L558.14,190.10 L558.61,183.93 L559.08,178.20 L559.55,172.96 L560.02,168.23 L560.49,164.02 L560.95,160.31 L561.42,157.07 L561.89,154.27 L562.36,151.87 L562.83,149.83 L563.30,148.12 L563.77,146.68 L564.24,145.49 L564.70,144.51 L565.17,143.70 L565.64,143.05 L566.11,142.52 L566.58,142.10 L567.05,141.77 L567.52,141.51 L567.98,141.31 L568.45,141.16 L568.92,141.05 L569.39,140.99 L569.86,140.95 L570.33,140.95 L570.80,140.99 L571.26,141.05 L571.73,141.16 L572.20,141.30 L572.67,141.50 L573.14,141.76 L573.61,142.09 L574.08,142.51 L574.55,143.03 L575.01,143.68 L575.48,144.48 L575.95,145.46 L576.42,146.64 L576.89,148.07 L577.36,149.78 L577.83,151.80 L578.29,154.19 L578.76,156.98 L579.23,160.20 L579.70,163.90" stroke="#3d7fc6" stroke-width="1.1" fill="none"/></g>
<text x="489.49" y="253.60" font-size="11.3" text-anchor="middle" fill="#1a1a1a" font-weight="normal" font-style="normal" >3.92</text>
<text x="515.26" y="253.60" font-size="11.3" text-anchor="middle" fill="#1a1a1a" font-weight="normal" font-style="normal" >3.94</text>
<text x="541.04" y="253.60" font-size="11.3" text-anchor="middle" fill="#1a1a1a" font-weight="normal" font-style="normal" >3.96</text>
<text x="566.81" y="253.60" font-size="11.3" text-anchor="middle" fill="#1a1a1a" font-weight="normal" font-style="normal" >3.98</text>
<text x="528.15" y="266.30" font-size="13.5" text-anchor="middle" fill="#1a1a1a" font-weight="normal" font-style="normal" ><tspan font-style="italic">t</tspan> (ns)</text>
<line x1="592.59" y1="128.10" x2="592.59" y2="239.70" stroke="#666" stroke-width="1.0" stroke-dasharray="3.3,2" />
<line x1="618.36" y1="128.10" x2="618.36" y2="239.70" stroke="#666" stroke-width="1.0" stroke-dasharray="3.3,2" />
<line x1="644.14" y1="128.10" x2="644.14" y2="239.70" stroke="#666" stroke-width="1.0" stroke-dasharray="3.3,2" />
<line x1="669.91" y1="128.10" x2="669.91" y2="239.70" stroke="#666" stroke-width="1.0" stroke-dasharray="3.3,2" />
<line x1="579.70" y1="190.20" x2="682.80" y2="190.20" stroke="#666" stroke-width="1.0" stroke-dasharray="3.3,2" />
<line x1="579.70" y1="140.90" x2="682.80" y2="140.90" stroke="#666" stroke-width="1.0" stroke-dasharray="3.3,2" />
<line x1="579.70" y1="239.70" x2="579.70" y2="237.10" stroke="#222" stroke-width="1.0" />
<line x1="592.59" y1="239.70" x2="592.59" y2="234.90" stroke="#222" stroke-width="1.0" />
<line x1="605.48" y1="239.70" x2="605.48" y2="237.10" stroke="#222" stroke-width="1.0" />
<line x1="618.36" y1="239.70" x2="618.36" y2="234.90" stroke="#222" stroke-width="1.0" />
<line x1="631.25" y1="239.70" x2="631.25" y2="237.10" stroke="#222" stroke-width="1.0" />
<line x1="644.14" y1="239.70" x2="644.14" y2="234.90" stroke="#222" stroke-width="1.0" />
<line x1="657.03" y1="239.70" x2="657.03" y2="237.10" stroke="#222" stroke-width="1.0" />
<line x1="669.91" y1="239.70" x2="669.91" y2="234.90" stroke="#222" stroke-width="1.0" />
<line x1="682.80" y1="239.70" x2="682.80" y2="237.10" stroke="#222" stroke-width="1.0" />
<line x1="579.70" y1="239.50" x2="584.20" y2="239.50" stroke="#222" stroke-width="1.0" />
<line x1="579.70" y1="190.20" x2="584.20" y2="190.20" stroke="#222" stroke-width="1.0" />
<line x1="579.70" y1="140.90" x2="584.20" y2="140.90" stroke="#222" stroke-width="1.0" />
<line x1="579.70" y1="214.85" x2="582.30" y2="214.85" stroke="#222" stroke-width="1.0" />
<line x1="579.70" y1="165.55" x2="582.30" y2="165.55" stroke="#222" stroke-width="1.0" />
<line x1="682.80" y1="239.50" x2="678.30" y2="239.50" stroke="#222" stroke-width="1.0" />
<line x1="682.80" y1="190.20" x2="678.30" y2="190.20" stroke="#222" stroke-width="1.0" />
<line x1="682.80" y1="140.90" x2="678.30" y2="140.90" stroke="#222" stroke-width="1.0" />
<line x1="682.80" y1="214.85" x2="680.20" y2="214.85" stroke="#222" stroke-width="1.0" />
<line x1="682.80" y1="165.55" x2="680.20" y2="165.55" stroke="#222" stroke-width="1.0" />
<rect x="579.70" y="128.10" width="103.10" height="111.60" fill="none" stroke="#222" stroke-width="1.05"/>
<g clip-path="url(#ce2)"><path d="M579.70,141.22 L580.17,141.07 L580.64,140.98 L581.11,140.93 L581.57,140.94 L582.04,141.00 L582.51,141.10 L582.98,141.26 L583.45,141.48 L583.92,141.77 L584.39,142.12 L584.86,142.56 L585.32,143.10 L585.79,143.74 L586.26,144.51 L586.73,145.42 L587.20,146.48 L587.67,147.73 L588.14,149.18 L588.60,150.85 L589.07,152.77 L589.54,154.95 L590.01,157.42 L590.48,160.20 L590.95,163.28 L591.42,166.69 L591.88,170.42 L592.35,174.47 L592.82,178.79 L593.29,183.37 L593.76,188.14 L594.23,193.02 L594.70,197.90 L595.17,202.64 L595.63,207.06 L596.10,210.89 L596.57,213.69 L597.04,213.58 L597.51,210.50 L597.98,206.33 L598.45,201.56 L598.91,196.48 L599.38,191.29 L599.85,186.15 L600.32,181.18 L600.79,176.45 L601.26,172.03 L601.73,167.95 L602.19,164.23 L602.66,160.87 L603.13,157.87 L603.60,155.21 L604.07,152.87 L604.54,150.83 L605.01,149.07 L605.48,147.56 L605.94,146.27 L606.41,145.18 L606.88,144.27 L607.35,143.50 L607.82,142.87 L608.29,142.36 L608.76,141.94 L609.22,141.61 L609.69,141.36 L610.16,141.17 L610.63,141.05 L611.10,140.98 L611.57,140.96 L612.04,140.99 L612.50,141.07 L612.97,141.20 L613.44,141.39 L613.91,141.64 L614.38,141.96 L614.85,142.36 L615.32,142.85 L615.79,143.44 L616.25,144.15 L616.72,145.00 L617.19,145.99 L617.66,147.16 L618.13,148.51 L618.60,150.08 L619.07,151.89 L619.53,153.95 L620.00,156.29 L620.47,158.93 L620.94,161.88 L621.41,165.14 L621.88,168.73 L622.35,172.64 L622.81,176.85 L623.28,181.32 L623.75,186.01 L624.22,190.85 L624.69,195.75 L625.16,200.57 L625.63,205.16 L626.10,209.29 L626.56,212.62 L627.03,214.32 L627.50,212.04 L627.97,208.27 L628.44,203.72 L628.91,198.75 L629.38,193.59 L629.84,188.41 L630.31,183.35 L630.78,178.51 L631.25,173.95 L631.72,169.71 L632.19,165.83 L632.66,162.31 L633.12,159.15 L633.59,156.34 L634.06,153.86 L634.53,151.70 L635.00,149.82 L635.47,148.20 L635.94,146.81 L636.41,145.64 L636.87,144.65 L637.34,143.82 L637.81,143.13 L638.28,142.56 L638.75,142.10 L639.22,141.73 L639.69,141.44 L640.15,141.22 L640.62,141.06 L641.09,140.95 L641.56,140.90 L642.03,140.90 L642.50,140.93 L642.97,141.01 L643.43,141.15 L643.90,141.34 L644.37,141.60 L644.84,141.92 L645.31,142.31 L645.78,142.80 L646.25,143.38 L646.72,144.08 L647.18,144.92 L647.65,145.90 L648.12,147.05 L648.59,148.39 L649.06,149.95 L649.53,151.73 L650.00,153.77 L650.46,156.09 L650.93,158.70 L651.40,161.62 L651.87,164.86 L652.34,168.43 L652.81,172.31 L653.28,176.49 L653.74,180.94 L654.21,185.62 L654.68,190.45 L655.15,195.35 L655.62,200.18 L656.09,204.80 L656.56,208.97 L657.03,212.39 L657.49,214.35 L657.96,212.30 L658.43,208.62 L658.90,204.12 L659.37,199.17 L659.84,194.01 L660.31,188.83 L660.77,183.76 L661.24,178.90 L661.71,174.31 L662.18,170.05 L662.65,166.14 L663.12,162.59 L663.59,159.40 L664.05,156.56 L664.52,154.06 L664.99,151.87 L665.46,149.96 L665.93,148.32 L666.40,146.92 L666.87,145.73 L667.34,144.72 L667.80,143.88 L668.27,143.18 L668.74,142.60 L669.21,142.13 L669.68,141.76 L670.15,141.46 L670.62,141.23 L671.08,141.07 L671.55,140.96 L672.02,140.90 L672.49,140.90 L672.96,140.92 L673.43,141.01 L673.90,141.14 L674.36,141.33 L674.83,141.57 L675.30,141.89 L675.77,142.28 L676.24,142.75 L676.71,143.33 L677.18,144.02 L677.64,144.84 L678.11,145.81 L678.58,146.95 L679.05,148.27 L679.52,149.81 L679.99,151.57 L680.46,153.59 L680.93,155.89 L681.39,158.48 L681.86,161.37 L682.33,164.58 L682.80,168.12" stroke="#3d7fc6" stroke-width="1.1" fill="none"/></g>
<text x="592.59" y="253.60" font-size="11.3" text-anchor="middle" fill="#1a1a1a" font-weight="normal" font-style="normal" >3.92</text>
<text x="618.36" y="253.60" font-size="11.3" text-anchor="middle" fill="#1a1a1a" font-weight="normal" font-style="normal" >3.94</text>
<text x="644.14" y="253.60" font-size="11.3" text-anchor="middle" fill="#1a1a1a" font-weight="normal" font-style="normal" >3.96</text>
<text x="669.91" y="253.60" font-size="11.3" text-anchor="middle" fill="#1a1a1a" font-weight="normal" font-style="normal" >3.98</text>
<text x="631.25" y="266.30" font-size="13.5" text-anchor="middle" fill="#1a1a1a" font-weight="normal" font-style="normal" ><tspan font-style="italic">t</tspan> (ns)</text>
<text x="368.40" y="242.70" font-size="11.3" text-anchor="end" fill="#1a1a1a" font-weight="normal" font-style="normal" >3</text>
<text x="368.40" y="193.40" font-size="11.3" text-anchor="end" fill="#1a1a1a" font-weight="normal" font-style="normal" >5</text>
<text x="368.40" y="144.10" font-size="11.3" text-anchor="end" fill="#1a1a1a" font-weight="normal" font-style="normal" >7</text>
<text transform="translate(346.4,206.0) rotate(-90)" font-size="12.6" fill="#1a1a1a" textLength="59.5" lengthAdjust="spacingAndGlyphs">Sum of <tspan font-style="italic">n</tspan><tspan font-size="8.5" dy="5.0" dx="0.4">z</tspan></text>
<line x1="399.30" y1="140.70" x2="425.00" y2="140.70" stroke="#e8592a" stroke-width="1.2" />
<line x1="399.00" y1="208.00" x2="424.10" y2="208.00" stroke="#e8592a" stroke-width="1.2" />
<line x1="406.20" y1="144.00" x2="406.20" y2="205.00" stroke="#e8592a" stroke-width="1.1" />
<polygon points="406.2,141.3 403,147.5 406.2,145.8 409.4,147.5" fill="#e8592a"/>
<polygon points="406.2,207.4 403,201.2 406.2,202.9 409.4,201.2" fill="#e8592a"/>
<text x="387.20" y="183.40" font-size="16.2" text-anchor="start" fill="#e8592a" font-weight="normal" font-style="normal" ><tspan font-style="italic">A</tspan><tspan font-size="9.4" dy="4.9" dx="0.3">s</tspan></text>
<line x1="414.79" y1="278.10" x2="414.79" y2="387.70" stroke="#4a4a4a" stroke-width="0.9" stroke-dasharray="5.5,2.7" />
<line x1="453.96" y1="278.10" x2="453.96" y2="387.70" stroke="#4a4a4a" stroke-width="0.9" stroke-dasharray="5.5,2.7" />
<line x1="493.13" y1="278.10" x2="493.13" y2="387.70" stroke="#4a4a4a" stroke-width="0.9" stroke-dasharray="5.5,2.7" />
<line x1="532.30" y1="278.10" x2="532.30" y2="387.70" stroke="#4a4a4a" stroke-width="0.9" stroke-dasharray="5.5,2.7" />
<line x1="571.47" y1="278.10" x2="571.47" y2="387.70" stroke="#4a4a4a" stroke-width="0.9" stroke-dasharray="5.5,2.7" />
<line x1="610.64" y1="278.10" x2="610.64" y2="387.70" stroke="#4a4a4a" stroke-width="0.9" stroke-dasharray="5.5,2.7" />
<line x1="649.81" y1="278.10" x2="649.81" y2="387.70" stroke="#4a4a4a" stroke-width="0.9" stroke-dasharray="5.5,2.7" />
<line x1="395.20" y1="360.30" x2="669.40" y2="360.30" stroke="#4a4a4a" stroke-width="0.9" stroke-dasharray="5.5,2.7" />
<line x1="395.20" y1="332.90" x2="669.40" y2="332.90" stroke="#4a4a4a" stroke-width="0.9" stroke-dasharray="5.5,2.7" />
<line x1="395.20" y1="305.50" x2="669.40" y2="305.50" stroke="#4a4a4a" stroke-width="0.9" stroke-dasharray="5.5,2.7" />
<line x1="395.20" y1="387.70" x2="395.20" y2="385.70" stroke="#333" stroke-width="0.9" />
<line x1="395.20" y1="278.10" x2="395.20" y2="280.10" stroke="#333" stroke-width="0.9" />
<line x1="414.79" y1="387.70" x2="414.79" y2="384.40" stroke="#333" stroke-width="0.9" />
<line x1="414.79" y1="278.10" x2="414.79" y2="281.40" stroke="#333" stroke-width="0.9" />
<line x1="434.37" y1="387.70" x2="434.37" y2="385.70" stroke="#333" stroke-width="0.9" />
<line x1="434.37" y1="278.10" x2="434.37" y2="280.10" stroke="#333" stroke-width="0.9" />
<line x1="453.96" y1="387.70" x2="453.96" y2="384.40" stroke="#333" stroke-width="0.9" />
<line x1="453.96" y1="278.10" x2="453.96" y2="281.40" stroke="#333" stroke-width="0.9" />
<line x1="473.54" y1="387.70" x2="473.54" y2="385.70" stroke="#333" stroke-width="0.9" />
<line x1="473.54" y1="278.10" x2="473.54" y2="280.10" stroke="#333" stroke-width="0.9" />
<line x1="493.13" y1="387.70" x2="493.13" y2="384.40" stroke="#333" stroke-width="0.9" />
<line x1="493.13" y1="278.10" x2="493.13" y2="281.40" stroke="#333" stroke-width="0.9" />
<line x1="512.71" y1="387.70" x2="512.71" y2="385.70" stroke="#333" stroke-width="0.9" />
<line x1="512.71" y1="278.10" x2="512.71" y2="280.10" stroke="#333" stroke-width="0.9" />
<line x1="532.30" y1="387.70" x2="532.30" y2="384.40" stroke="#333" stroke-width="0.9" />
<line x1="532.30" y1="278.10" x2="532.30" y2="281.40" stroke="#333" stroke-width="0.9" />
<line x1="551.89" y1="387.70" x2="551.89" y2="385.70" stroke="#333" stroke-width="0.9" />
<line x1="551.89" y1="278.10" x2="551.89" y2="280.10" stroke="#333" stroke-width="0.9" />
<line x1="571.47" y1="387.70" x2="571.47" y2="384.40" stroke="#333" stroke-width="0.9" />
<line x1="571.47" y1="278.10" x2="571.47" y2="281.40" stroke="#333" stroke-width="0.9" />
<line x1="591.06" y1="387.70" x2="591.06" y2="385.70" stroke="#333" stroke-width="0.9" />
<line x1="591.06" y1="278.10" x2="591.06" y2="280.10" stroke="#333" stroke-width="0.9" />
<line x1="610.64" y1="387.70" x2="610.64" y2="384.40" stroke="#333" stroke-width="0.9" />
<line x1="610.64" y1="278.10" x2="610.64" y2="281.40" stroke="#333" stroke-width="0.9" />
<line x1="630.23" y1="387.70" x2="630.23" y2="385.70" stroke="#333" stroke-width="0.9" />
<line x1="630.23" y1="278.10" x2="630.23" y2="280.10" stroke="#333" stroke-width="0.9" />
<line x1="649.81" y1="387.70" x2="649.81" y2="384.40" stroke="#333" stroke-width="0.9" />
<line x1="649.81" y1="278.10" x2="649.81" y2="281.40" stroke="#333" stroke-width="0.9" />
<line x1="669.40" y1="387.70" x2="669.40" y2="385.70" stroke="#333" stroke-width="0.9" />
<line x1="669.40" y1="278.10" x2="669.40" y2="280.10" stroke="#333" stroke-width="0.9" />
<line x1="395.20" y1="387.70" x2="398.50" y2="387.70" stroke="#333" stroke-width="0.9" />
<line x1="669.40" y1="387.70" x2="666.10" y2="387.70" stroke="#333" stroke-width="0.9" />
<line x1="395.20" y1="374.00" x2="397.20" y2="374.00" stroke="#333" stroke-width="0.9" />
<line x1="669.40" y1="374.00" x2="667.40" y2="374.00" stroke="#333" stroke-width="0.9" />
<line x1="395.20" y1="360.30" x2="398.50" y2="360.30" stroke="#333" stroke-width="0.9" />
<line x1="669.40" y1="360.30" x2="666.10" y2="360.30" stroke="#333" stroke-width="0.9" />
<line x1="395.20" y1="346.60" x2="397.20" y2="346.60" stroke="#333" stroke-width="0.9" />
<line x1="669.40" y1="346.60" x2="667.40" y2="346.60" stroke="#333" stroke-width="0.9" />
<line x1="395.20" y1="332.90" x2="398.50" y2="332.90" stroke="#333" stroke-width="0.9" />
<line x1="669.40" y1="332.90" x2="666.10" y2="332.90" stroke="#333" stroke-width="0.9" />
<line x1="395.20" y1="319.20" x2="397.20" y2="319.20" stroke="#333" stroke-width="0.9" />
<line x1="669.40" y1="319.20" x2="667.40" y2="319.20" stroke="#333" stroke-width="0.9" />
<line x1="395.20" y1="305.50" x2="398.50" y2="305.50" stroke="#333" stroke-width="0.9" />
<line x1="669.40" y1="305.50" x2="666.10" y2="305.50" stroke="#333" stroke-width="0.9" />
<line x1="395.20" y1="291.80" x2="397.20" y2="291.80" stroke="#333" stroke-width="0.9" />
<line x1="669.40" y1="291.80" x2="667.40" y2="291.80" stroke="#333" stroke-width="0.9" />
<line x1="395.20" y1="278.10" x2="398.50" y2="278.10" stroke="#333" stroke-width="0.9" />
<line x1="669.40" y1="278.10" x2="666.10" y2="278.10" stroke="#333" stroke-width="0.9" />
<rect x="395.20" y="278.10" width="274.20" height="109.60" fill="none" stroke="#707070" stroke-width="1.4"/>
<path d="M414.79,364.41 L453.96,342.49 L493.13,314.54 L512.71,298.92 L532.30,289.06 L551.89,292.90 L571.47,306.87 L610.64,336.46 L649.81,358.93" stroke="#ef7a4a" stroke-width="1" fill="none"/>
<rect x="411.19" y="360.81" width="7.2" height="7.2" fill="#e35b22"/>
<rect x="450.36" y="338.89" width="7.2" height="7.2" fill="#e35b22"/>
<rect x="489.53" y="310.94" width="7.2" height="7.2" fill="#e35b22"/>
<rect x="509.11" y="295.32" width="7.2" height="7.2" fill="#e35b22"/>
<rect x="528.70" y="285.46" width="7.2" height="7.2" fill="#e35b22"/>
<rect x="548.29" y="289.30" width="7.2" height="7.2" fill="#e35b22"/>
<rect x="567.87" y="303.27" width="7.2" height="7.2" fill="#e35b22"/>
<rect x="607.04" y="332.86" width="7.2" height="7.2" fill="#e35b22"/>
<rect x="646.21" y="355.33" width="7.2" height="7.2" fill="#e35b22"/>
<text x="389.70" y="391.70" font-size="11.3" text-anchor="end" fill="#1a1a1a" font-weight="normal" font-style="normal" >0</text>
<text x="389.70" y="364.30" font-size="11.3" text-anchor="end" fill="#1a1a1a" font-weight="normal" font-style="normal" >1</text>
<text x="389.70" y="336.90" font-size="11.3" text-anchor="end" fill="#1a1a1a" font-weight="normal" font-style="normal" >2</text>
<text x="389.70" y="309.50" font-size="11.3" text-anchor="end" fill="#1a1a1a" font-weight="normal" font-style="normal" >3</text>
<text x="389.70" y="282.10" font-size="11.3" text-anchor="end" fill="#1a1a1a" font-weight="normal" font-style="normal" >4</text>
<text x="414.79" y="401.00" font-size="11.3" text-anchor="middle" fill="#1a1a1a" font-weight="normal" font-style="normal" >50</text>
<text x="453.96" y="401.00" font-size="11.3" text-anchor="middle" fill="#1a1a1a" font-weight="normal" font-style="normal" >52</text>
<text x="493.13" y="401.00" font-size="11.3" text-anchor="middle" fill="#1a1a1a" font-weight="normal" font-style="normal" >54</text>
<text x="532.30" y="401.00" font-size="11.3" text-anchor="middle" fill="#1a1a1a" font-weight="normal" font-style="normal" >56</text>
<text x="571.47" y="401.00" font-size="11.3" text-anchor="middle" fill="#1a1a1a" font-weight="normal" font-style="normal" >58</text>
<text x="610.64" y="401.00" font-size="11.3" text-anchor="middle" fill="#1a1a1a" font-weight="normal" font-style="normal" >60</text>
<text x="649.81" y="401.00" font-size="11.3" text-anchor="middle" fill="#1a1a1a" font-weight="normal" font-style="normal" >62</text>
<text x="512.00" y="416.00" font-size="13.6" text-anchor="start" fill="#1a1a1a" font-weight="normal" font-style="normal" textLength="41.3" lengthAdjust="spacingAndGlyphs"><tspan font-style="italic">d</tspan> (nm)</text>
<text transform="translate(372.8,338.6) rotate(-90)" font-size="14.7" fill="#1a1a1a"><tspan font-style="italic">A</tspan><tspan font-size="9" dy="5.2">s</tspan></text>
</svg>
</div></body></html>
